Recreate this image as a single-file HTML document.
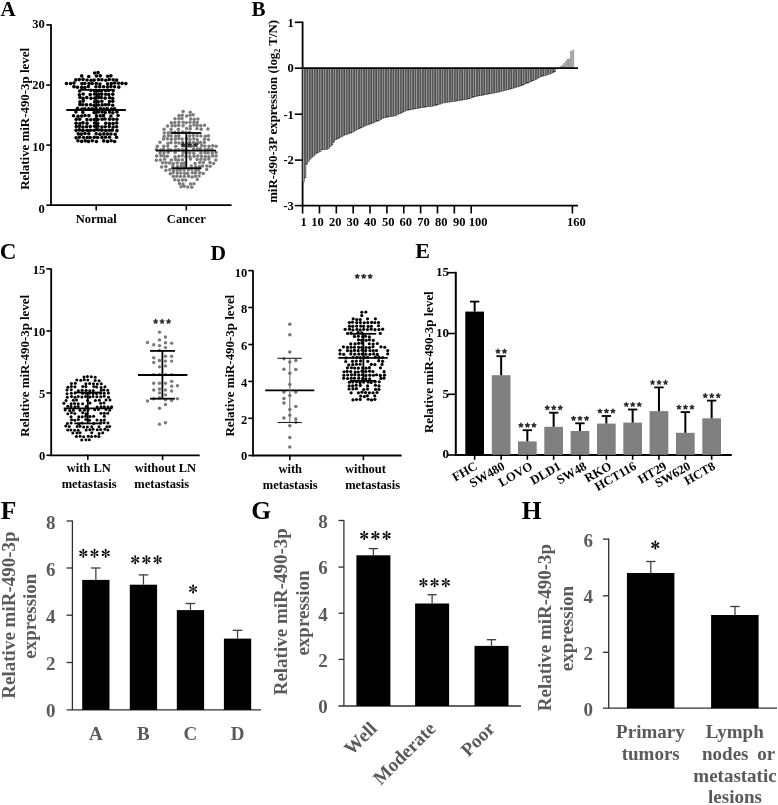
<!DOCTYPE html>
<html><head><meta charset="utf-8"><style>
html,body{margin:0;padding:0;background:#fff;}
svg{display:block;will-change:transform;}
</style></head><body>
<svg width="778" height="805" viewBox="0 0 778 805" font-family="&#39;Liberation Serif&#39;, serif" font-weight="bold">
<rect width="778" height="805" fill="#fff"/>
<text x="0.50" y="15.60" font-size="21" text-anchor="start" fill="#000" >A</text>
<line x1="51.00" y1="24.20" x2="51.00" y2="206.00" stroke="#000" stroke-width="1.8"/>
<line x1="50.10" y1="205.20" x2="231.60" y2="205.20" stroke="#000" stroke-width="1.8"/>
<line x1="46.30" y1="24.90" x2="51.00" y2="24.90" stroke="#000" stroke-width="1.6"/>
<line x1="46.30" y1="85.10" x2="51.00" y2="85.10" stroke="#000" stroke-width="1.6"/>
<line x1="46.30" y1="145.10" x2="51.00" y2="145.10" stroke="#000" stroke-width="1.6"/>
<line x1="46.30" y1="205.20" x2="51.00" y2="205.20" stroke="#000" stroke-width="1.6"/>
<text x="44.80" y="28.30" font-size="12.5" text-anchor="end" fill="#000" >30</text>
<text x="44.80" y="89.20" font-size="12.5" text-anchor="end" fill="#000" >20</text>
<text x="44.80" y="151.00" font-size="12.5" text-anchor="end" fill="#000" >10</text>
<text x="44.80" y="212.70" font-size="12.5" text-anchor="end" fill="#000" >0</text>
<line x1="96.20" y1="205.00" x2="96.20" y2="210.40" stroke="#000" stroke-width="1.6"/>
<line x1="186.30" y1="205.00" x2="186.30" y2="210.40" stroke="#000" stroke-width="1.6"/>
<text x="96.20" y="222.70" font-size="12.5" text-anchor="middle" fill="#000" >Normal</text>
<text x="186.30" y="222.70" font-size="12.5" text-anchor="middle" fill="#000" >Cancer</text>
<text transform="translate(28.60,118.90) rotate(-90)" font-size="12.9" text-anchor="middle" fill="#000">Relative miR-490-3p level</text>
<g fill="#000"><circle cx="94.70" cy="72.96" r="1.8"/><circle cx="98.05" cy="72.65" r="1.8"/><circle cx="81.69" cy="75.89" r="1.8"/><circle cx="88.73" cy="76.56" r="1.8"/><circle cx="96.42" cy="76.03" r="1.8"/><circle cx="100.30" cy="75.83" r="1.8"/><circle cx="107.74" cy="76.18" r="1.8"/><circle cx="110.92" cy="75.83" r="1.8"/><circle cx="75.79" cy="79.90" r="1.8"/><circle cx="79.28" cy="79.62" r="1.8"/><circle cx="83.04" cy="79.42" r="1.8"/><circle cx="87.01" cy="80.04" r="1.8"/><circle cx="91.14" cy="80.26" r="1.8"/><circle cx="94.18" cy="80.12" r="1.8"/><circle cx="98.49" cy="79.82" r="1.8"/><circle cx="101.92" cy="79.70" r="1.8"/><circle cx="105.83" cy="80.25" r="1.8"/><circle cx="109.24" cy="79.43" r="1.8"/><circle cx="113.15" cy="79.81" r="1.8"/><circle cx="116.60" cy="80.10" r="1.8"/><circle cx="66.47" cy="83.44" r="1.8"/><circle cx="70.58" cy="83.52" r="1.8"/><circle cx="73.99" cy="83.03" r="1.8"/><circle cx="81.88" cy="83.59" r="1.8"/><circle cx="84.77" cy="83.50" r="1.8"/><circle cx="89.07" cy="83.54" r="1.8"/><circle cx="92.23" cy="83.51" r="1.8"/><circle cx="96.28" cy="83.46" r="1.8"/><circle cx="99.95" cy="83.96" r="1.8"/><circle cx="107.62" cy="83.89" r="1.8"/><circle cx="111.31" cy="83.52" r="1.8"/><circle cx="114.63" cy="83.06" r="1.8"/><circle cx="118.47" cy="83.20" r="1.8"/><circle cx="122.08" cy="83.36" r="1.8"/><circle cx="125.84" cy="83.62" r="1.8"/><circle cx="73.96" cy="86.63" r="1.8"/><circle cx="77.38" cy="87.18" r="1.8"/><circle cx="81.70" cy="87.40" r="1.8"/><circle cx="84.86" cy="87.44" r="1.8"/><circle cx="88.38" cy="86.62" r="1.8"/><circle cx="95.95" cy="86.71" r="1.8"/><circle cx="99.74" cy="86.67" r="1.8"/><circle cx="103.63" cy="86.77" r="1.8"/><circle cx="107.51" cy="87.05" r="1.8"/><circle cx="110.97" cy="86.62" r="1.8"/><circle cx="114.62" cy="86.79" r="1.8"/><circle cx="118.80" cy="87.11" r="1.8"/><circle cx="79.66" cy="91.02" r="1.8"/><circle cx="90.87" cy="90.36" r="1.8"/><circle cx="94.53" cy="90.74" r="1.8"/><circle cx="98.53" cy="91.00" r="1.8"/><circle cx="101.47" cy="90.85" r="1.8"/><circle cx="105.53" cy="90.52" r="1.8"/><circle cx="108.71" cy="90.50" r="1.8"/><circle cx="113.23" cy="90.51" r="1.8"/><circle cx="79.36" cy="94.74" r="1.8"/><circle cx="83.17" cy="94.05" r="1.8"/><circle cx="90.19" cy="94.62" r="1.8"/><circle cx="94.42" cy="93.97" r="1.8"/><circle cx="98.52" cy="94.50" r="1.8"/><circle cx="101.63" cy="94.15" r="1.8"/><circle cx="105.62" cy="94.23" r="1.8"/><circle cx="108.75" cy="94.47" r="1.8"/><circle cx="112.85" cy="94.13" r="1.8"/><circle cx="79.95" cy="97.42" r="1.8"/><circle cx="83.08" cy="98.39" r="1.8"/><circle cx="86.79" cy="97.61" r="1.8"/><circle cx="90.99" cy="98.33" r="1.8"/><circle cx="94.73" cy="98.09" r="1.8"/><circle cx="98.54" cy="97.63" r="1.8"/><circle cx="101.33" cy="97.57" r="1.8"/><circle cx="105.16" cy="98.16" r="1.8"/><circle cx="109.49" cy="97.77" r="1.8"/><circle cx="112.64" cy="98.27" r="1.8"/><circle cx="80.00" cy="101.89" r="1.8"/><circle cx="83.30" cy="101.10" r="1.8"/><circle cx="94.64" cy="101.83" r="1.8"/><circle cx="98.17" cy="101.78" r="1.8"/><circle cx="101.82" cy="101.22" r="1.8"/><circle cx="109.54" cy="101.56" r="1.8"/><circle cx="112.81" cy="101.28" r="1.8"/><circle cx="79.88" cy="104.61" r="1.8"/><circle cx="82.84" cy="104.72" r="1.8"/><circle cx="86.49" cy="104.84" r="1.8"/><circle cx="90.57" cy="104.72" r="1.8"/><circle cx="94.09" cy="105.34" r="1.8"/><circle cx="98.46" cy="104.98" r="1.8"/><circle cx="102.16" cy="104.89" r="1.8"/><circle cx="105.43" cy="104.70" r="1.8"/><circle cx="108.69" cy="104.61" r="1.8"/><circle cx="112.65" cy="105.20" r="1.8"/><circle cx="77.51" cy="108.26" r="1.8"/><circle cx="81.87" cy="109.17" r="1.8"/><circle cx="84.82" cy="108.82" r="1.8"/><circle cx="88.84" cy="108.89" r="1.8"/><circle cx="92.26" cy="108.74" r="1.8"/><circle cx="95.95" cy="108.28" r="1.8"/><circle cx="100.38" cy="108.65" r="1.8"/><circle cx="103.74" cy="109.14" r="1.8"/><circle cx="107.11" cy="108.53" r="1.8"/><circle cx="111.35" cy="109.09" r="1.8"/><circle cx="114.53" cy="108.74" r="1.8"/><circle cx="75.95" cy="112.05" r="1.8"/><circle cx="82.82" cy="112.35" r="1.8"/><circle cx="94.14" cy="112.59" r="1.8"/><circle cx="98.41" cy="111.95" r="1.8"/><circle cx="102.04" cy="111.88" r="1.8"/><circle cx="105.12" cy="112.58" r="1.8"/><circle cx="109.47" cy="112.12" r="1.8"/><circle cx="112.86" cy="112.72" r="1.8"/><circle cx="116.94" cy="111.94" r="1.8"/><circle cx="73.53" cy="115.72" r="1.8"/><circle cx="78.00" cy="116.31" r="1.8"/><circle cx="81.65" cy="116.09" r="1.8"/><circle cx="85.03" cy="115.56" r="1.8"/><circle cx="88.97" cy="115.65" r="1.8"/><circle cx="96.51" cy="115.95" r="1.8"/><circle cx="100.25" cy="115.85" r="1.8"/><circle cx="103.44" cy="115.66" r="1.8"/><circle cx="110.92" cy="115.97" r="1.8"/><circle cx="118.04" cy="115.53" r="1.8"/><circle cx="76.18" cy="119.40" r="1.8"/><circle cx="79.66" cy="119.23" r="1.8"/><circle cx="86.95" cy="119.65" r="1.8"/><circle cx="90.84" cy="119.73" r="1.8"/><circle cx="94.35" cy="119.48" r="1.8"/><circle cx="97.96" cy="119.56" r="1.8"/><circle cx="102.17" cy="119.28" r="1.8"/><circle cx="105.00" cy="119.07" r="1.8"/><circle cx="109.53" cy="119.16" r="1.8"/><circle cx="113.23" cy="119.31" r="1.8"/><circle cx="116.90" cy="119.37" r="1.8"/><circle cx="76.09" cy="123.19" r="1.8"/><circle cx="79.95" cy="123.56" r="1.8"/><circle cx="82.93" cy="122.85" r="1.8"/><circle cx="87.02" cy="123.36" r="1.8"/><circle cx="94.57" cy="122.95" r="1.8"/><circle cx="97.71" cy="123.33" r="1.8"/><circle cx="105.76" cy="123.23" r="1.8"/><circle cx="109.56" cy="123.56" r="1.8"/><circle cx="113.13" cy="123.44" r="1.8"/><circle cx="116.75" cy="123.05" r="1.8"/><circle cx="76.32" cy="126.58" r="1.8"/><circle cx="79.48" cy="126.36" r="1.8"/><circle cx="82.88" cy="127.11" r="1.8"/><circle cx="86.57" cy="126.80" r="1.8"/><circle cx="90.27" cy="126.50" r="1.8"/><circle cx="94.60" cy="126.20" r="1.8"/><circle cx="97.99" cy="126.22" r="1.8"/><circle cx="101.86" cy="127.04" r="1.8"/><circle cx="105.23" cy="126.74" r="1.8"/><circle cx="109.24" cy="126.45" r="1.8"/><circle cx="113.14" cy="127.01" r="1.8"/><circle cx="116.60" cy="126.69" r="1.8"/><circle cx="76.12" cy="130.37" r="1.8"/><circle cx="79.33" cy="129.91" r="1.8"/><circle cx="82.87" cy="130.55" r="1.8"/><circle cx="87.41" cy="130.56" r="1.8"/><circle cx="90.29" cy="130.30" r="1.8"/><circle cx="94.16" cy="130.30" r="1.8"/><circle cx="98.08" cy="129.80" r="1.8"/><circle cx="101.70" cy="130.10" r="1.8"/><circle cx="105.73" cy="130.48" r="1.8"/><circle cx="109.30" cy="130.18" r="1.8"/><circle cx="112.35" cy="130.08" r="1.8"/><circle cx="116.93" cy="130.63" r="1.8"/><circle cx="78.19" cy="133.86" r="1.8"/><circle cx="81.31" cy="134.14" r="1.8"/><circle cx="84.91" cy="133.57" r="1.8"/><circle cx="88.83" cy="133.76" r="1.8"/><circle cx="96.13" cy="133.81" r="1.8"/><circle cx="99.98" cy="134.13" r="1.8"/><circle cx="103.85" cy="133.89" r="1.8"/><circle cx="107.44" cy="134.05" r="1.8"/><circle cx="110.91" cy="134.03" r="1.8"/><circle cx="115.14" cy="134.18" r="1.8"/><circle cx="76.12" cy="137.82" r="1.8"/><circle cx="79.40" cy="137.26" r="1.8"/><circle cx="83.62" cy="137.54" r="1.8"/><circle cx="87.28" cy="137.48" r="1.8"/><circle cx="90.20" cy="137.51" r="1.8"/><circle cx="94.27" cy="137.36" r="1.8"/><circle cx="97.57" cy="137.51" r="1.8"/><circle cx="101.94" cy="137.40" r="1.8"/><circle cx="105.55" cy="137.21" r="1.8"/><circle cx="109.54" cy="137.27" r="1.8"/><circle cx="116.57" cy="137.37" r="1.8"/><circle cx="77.94" cy="140.77" r="1.8"/><circle cx="81.61" cy="141.42" r="1.8"/><circle cx="85.21" cy="140.83" r="1.8"/><circle cx="88.47" cy="141.39" r="1.8"/><circle cx="92.33" cy="140.82" r="1.8"/><circle cx="96.41" cy="141.44" r="1.8"/><circle cx="103.72" cy="140.92" r="1.8"/><circle cx="107.56" cy="141.39" r="1.8"/><circle cx="111.13" cy="140.77" r="1.8"/><circle cx="114.64" cy="141.51" r="1.8"/></g>
<g fill="#7c7c7c"><circle cx="183.14" cy="111.47" r="1.75"/><circle cx="190.28" cy="112.20" r="1.75"/><circle cx="179.03" cy="115.53" r="1.75"/><circle cx="182.19" cy="115.32" r="1.75"/><circle cx="186.57" cy="115.99" r="1.75"/><circle cx="190.05" cy="115.33" r="1.75"/><circle cx="193.14" cy="114.83" r="1.75"/><circle cx="174.98" cy="118.66" r="1.75"/><circle cx="178.93" cy="118.87" r="1.75"/><circle cx="182.03" cy="118.59" r="1.75"/><circle cx="190.60" cy="119.01" r="1.75"/><circle cx="194.17" cy="119.16" r="1.75"/><circle cx="197.89" cy="119.12" r="1.75"/><circle cx="171.32" cy="122.78" r="1.75"/><circle cx="174.79" cy="122.50" r="1.75"/><circle cx="178.85" cy="122.24" r="1.75"/><circle cx="183.11" cy="122.20" r="1.75"/><circle cx="186.12" cy="122.66" r="1.75"/><circle cx="189.95" cy="122.28" r="1.75"/><circle cx="193.97" cy="122.18" r="1.75"/><circle cx="197.19" cy="122.44" r="1.75"/><circle cx="167.52" cy="126.09" r="1.75"/><circle cx="172.05" cy="125.85" r="1.75"/><circle cx="175.22" cy="125.78" r="1.75"/><circle cx="178.67" cy="125.25" r="1.75"/><circle cx="183.12" cy="125.75" r="1.75"/><circle cx="190.27" cy="126.09" r="1.75"/><circle cx="193.99" cy="125.07" r="1.75"/><circle cx="197.13" cy="125.27" r="1.75"/><circle cx="200.63" cy="125.63" r="1.75"/><circle cx="204.49" cy="125.25" r="1.75"/><circle cx="164.01" cy="129.26" r="1.75"/><circle cx="171.11" cy="129.21" r="1.75"/><circle cx="178.33" cy="129.28" r="1.75"/><circle cx="186.68" cy="128.59" r="1.75"/><circle cx="190.23" cy="128.86" r="1.75"/><circle cx="196.98" cy="128.44" r="1.75"/><circle cx="201.24" cy="129.29" r="1.75"/><circle cx="207.94" cy="128.94" r="1.75"/><circle cx="164.39" cy="132.88" r="1.75"/><circle cx="168.23" cy="132.65" r="1.75"/><circle cx="171.17" cy="132.59" r="1.75"/><circle cx="174.72" cy="132.34" r="1.75"/><circle cx="178.45" cy="132.50" r="1.75"/><circle cx="182.62" cy="131.97" r="1.75"/><circle cx="186.01" cy="132.53" r="1.75"/><circle cx="189.42" cy="132.47" r="1.75"/><circle cx="164.11" cy="136.38" r="1.75"/><circle cx="168.39" cy="135.48" r="1.75"/><circle cx="171.20" cy="135.91" r="1.75"/><circle cx="175.56" cy="136.05" r="1.75"/><circle cx="178.81" cy="135.83" r="1.75"/><circle cx="189.53" cy="136.07" r="1.75"/><circle cx="193.22" cy="135.42" r="1.75"/><circle cx="197.06" cy="135.82" r="1.75"/><circle cx="200.87" cy="135.97" r="1.75"/><circle cx="205.29" cy="136.36" r="1.75"/><circle cx="208.42" cy="135.81" r="1.75"/><circle cx="163.56" cy="139.10" r="1.75"/><circle cx="167.42" cy="138.71" r="1.75"/><circle cx="171.34" cy="139.22" r="1.75"/><circle cx="175.33" cy="138.95" r="1.75"/><circle cx="178.75" cy="138.62" r="1.75"/><circle cx="182.12" cy="138.97" r="1.75"/><circle cx="186.51" cy="138.62" r="1.75"/><circle cx="189.89" cy="139.18" r="1.75"/><circle cx="193.81" cy="138.69" r="1.75"/><circle cx="197.25" cy="139.72" r="1.75"/><circle cx="204.43" cy="139.29" r="1.75"/><circle cx="208.46" cy="139.50" r="1.75"/><circle cx="159.95" cy="142.15" r="1.75"/><circle cx="167.97" cy="143.15" r="1.75"/><circle cx="170.93" cy="142.79" r="1.75"/><circle cx="175.47" cy="142.60" r="1.75"/><circle cx="178.85" cy="142.96" r="1.75"/><circle cx="182.63" cy="142.57" r="1.75"/><circle cx="186.67" cy="143.12" r="1.75"/><circle cx="189.76" cy="142.28" r="1.75"/><circle cx="193.41" cy="142.51" r="1.75"/><circle cx="197.90" cy="142.70" r="1.75"/><circle cx="200.62" cy="142.43" r="1.75"/><circle cx="204.38" cy="142.50" r="1.75"/><circle cx="157.29" cy="146.18" r="1.75"/><circle cx="163.78" cy="146.20" r="1.75"/><circle cx="167.73" cy="146.03" r="1.75"/><circle cx="175.74" cy="146.31" r="1.75"/><circle cx="182.86" cy="145.71" r="1.75"/><circle cx="186.25" cy="146.24" r="1.75"/><circle cx="190.59" cy="146.34" r="1.75"/><circle cx="193.27" cy="145.93" r="1.75"/><circle cx="201.56" cy="145.62" r="1.75"/><circle cx="204.78" cy="145.89" r="1.75"/><circle cx="209.02" cy="146.25" r="1.75"/><circle cx="212.75" cy="145.80" r="1.75"/><circle cx="216.09" cy="146.31" r="1.75"/><circle cx="156.37" cy="149.55" r="1.75"/><circle cx="160.60" cy="149.97" r="1.75"/><circle cx="163.51" cy="149.36" r="1.75"/><circle cx="168.26" cy="149.58" r="1.75"/><circle cx="170.92" cy="149.93" r="1.75"/><circle cx="175.33" cy="149.89" r="1.75"/><circle cx="178.42" cy="149.78" r="1.75"/><circle cx="182.24" cy="149.69" r="1.75"/><circle cx="185.93" cy="149.77" r="1.75"/><circle cx="193.62" cy="149.10" r="1.75"/><circle cx="197.36" cy="149.05" r="1.75"/><circle cx="200.59" cy="148.80" r="1.75"/><circle cx="205.20" cy="149.59" r="1.75"/><circle cx="208.48" cy="149.61" r="1.75"/><circle cx="211.92" cy="149.40" r="1.75"/><circle cx="160.01" cy="153.10" r="1.75"/><circle cx="163.99" cy="153.01" r="1.75"/><circle cx="168.24" cy="152.36" r="1.75"/><circle cx="175.16" cy="152.55" r="1.75"/><circle cx="183.16" cy="152.64" r="1.75"/><circle cx="186.16" cy="152.73" r="1.75"/><circle cx="189.77" cy="152.98" r="1.75"/><circle cx="193.75" cy="153.30" r="1.75"/><circle cx="200.87" cy="152.98" r="1.75"/><circle cx="204.98" cy="152.67" r="1.75"/><circle cx="208.01" cy="152.96" r="1.75"/><circle cx="212.24" cy="153.22" r="1.75"/><circle cx="216.05" cy="152.57" r="1.75"/><circle cx="156.65" cy="155.88" r="1.75"/><circle cx="160.95" cy="155.73" r="1.75"/><circle cx="163.96" cy="156.04" r="1.75"/><circle cx="167.29" cy="156.15" r="1.75"/><circle cx="174.95" cy="156.67" r="1.75"/><circle cx="178.83" cy="156.37" r="1.75"/><circle cx="182.39" cy="155.72" r="1.75"/><circle cx="185.93" cy="156.41" r="1.75"/><circle cx="189.83" cy="156.55" r="1.75"/><circle cx="194.07" cy="156.36" r="1.75"/><circle cx="197.79" cy="156.01" r="1.75"/><circle cx="201.61" cy="156.20" r="1.75"/><circle cx="205.34" cy="156.49" r="1.75"/><circle cx="208.94" cy="156.72" r="1.75"/><circle cx="212.77" cy="155.95" r="1.75"/><circle cx="216.10" cy="156.04" r="1.75"/><circle cx="156.31" cy="160.15" r="1.75"/><circle cx="160.37" cy="160.07" r="1.75"/><circle cx="164.65" cy="159.15" r="1.75"/><circle cx="171.33" cy="160.10" r="1.75"/><circle cx="175.51" cy="159.52" r="1.75"/><circle cx="178.58" cy="160.00" r="1.75"/><circle cx="182.34" cy="159.77" r="1.75"/><circle cx="190.51" cy="159.11" r="1.75"/><circle cx="197.10" cy="159.50" r="1.75"/><circle cx="200.91" cy="159.30" r="1.75"/><circle cx="204.93" cy="159.40" r="1.75"/><circle cx="208.82" cy="159.07" r="1.75"/><circle cx="215.82" cy="159.93" r="1.75"/><circle cx="162.66" cy="162.81" r="1.75"/><circle cx="166.08" cy="162.87" r="1.75"/><circle cx="169.52" cy="162.97" r="1.75"/><circle cx="173.13" cy="163.41" r="1.75"/><circle cx="177.16" cy="163.05" r="1.75"/><circle cx="181.34" cy="163.41" r="1.75"/><circle cx="184.34" cy="163.03" r="1.75"/><circle cx="195.10" cy="163.52" r="1.75"/><circle cx="199.75" cy="162.49" r="1.75"/><circle cx="203.31" cy="162.41" r="1.75"/><circle cx="209.96" cy="162.58" r="1.75"/><circle cx="213.56" cy="163.57" r="1.75"/><circle cx="161.71" cy="166.88" r="1.75"/><circle cx="165.93" cy="166.47" r="1.75"/><circle cx="172.82" cy="166.04" r="1.75"/><circle cx="177.44" cy="166.43" r="1.75"/><circle cx="181.20" cy="165.97" r="1.75"/><circle cx="184.01" cy="165.94" r="1.75"/><circle cx="191.31" cy="166.06" r="1.75"/><circle cx="195.70" cy="166.83" r="1.75"/><circle cx="199.51" cy="166.41" r="1.75"/><circle cx="202.55" cy="165.93" r="1.75"/><circle cx="206.80" cy="166.05" r="1.75"/><circle cx="210.11" cy="166.32" r="1.75"/><circle cx="165.83" cy="170.16" r="1.75"/><circle cx="169.72" cy="169.77" r="1.75"/><circle cx="173.67" cy="170.38" r="1.75"/><circle cx="177.29" cy="170.04" r="1.75"/><circle cx="180.19" cy="169.86" r="1.75"/><circle cx="184.08" cy="169.90" r="1.75"/><circle cx="188.30" cy="170.09" r="1.75"/><circle cx="191.82" cy="169.26" r="1.75"/><circle cx="195.94" cy="170.20" r="1.75"/><circle cx="198.70" cy="169.44" r="1.75"/><circle cx="206.70" cy="169.42" r="1.75"/><circle cx="170.22" cy="173.68" r="1.75"/><circle cx="173.10" cy="172.85" r="1.75"/><circle cx="177.29" cy="172.93" r="1.75"/><circle cx="180.83" cy="173.10" r="1.75"/><circle cx="184.71" cy="173.15" r="1.75"/><circle cx="187.70" cy="173.44" r="1.75"/><circle cx="192.34" cy="172.86" r="1.75"/><circle cx="195.60" cy="173.07" r="1.75"/><circle cx="199.76" cy="172.84" r="1.75"/><circle cx="203.18" cy="173.54" r="1.75"/><circle cx="173.30" cy="176.42" r="1.75"/><circle cx="176.76" cy="176.23" r="1.75"/><circle cx="180.38" cy="176.56" r="1.75"/><circle cx="184.22" cy="176.20" r="1.75"/><circle cx="188.58" cy="176.27" r="1.75"/><circle cx="192.04" cy="177.06" r="1.75"/><circle cx="195.32" cy="176.25" r="1.75"/><circle cx="199.01" cy="176.02" r="1.75"/><circle cx="174.84" cy="179.78" r="1.75"/><circle cx="178.61" cy="180.27" r="1.75"/><circle cx="182.53" cy="179.90" r="1.75"/><circle cx="185.72" cy="180.10" r="1.75"/><circle cx="197.25" cy="179.48" r="1.75"/><circle cx="179.40" cy="183.57" r="1.75"/><circle cx="182.96" cy="183.90" r="1.75"/><circle cx="190.56" cy="183.91" r="1.75"/><circle cx="193.94" cy="183.85" r="1.75"/><circle cx="180.99" cy="186.83" r="1.75"/><circle cx="184.11" cy="186.27" r="1.75"/><circle cx="187.72" cy="186.95" r="1.75"/><circle cx="191.77" cy="187.36" r="1.75"/></g>
<line x1="66.30" y1="110.00" x2="125.80" y2="110.00" stroke="#000" stroke-width="1.8"/>
<line x1="96.20" y1="89.80" x2="96.20" y2="130.40" stroke="#000" stroke-width="1.8"/>
<line x1="79.80" y1="89.80" x2="112.50" y2="89.80" stroke="#000" stroke-width="1.8"/>
<line x1="79.80" y1="130.40" x2="112.50" y2="130.40" stroke="#000" stroke-width="1.8"/>
<line x1="156.00" y1="150.60" x2="216.00" y2="150.60" stroke="#000" stroke-width="1.8"/>
<line x1="186.30" y1="133.00" x2="186.30" y2="168.20" stroke="#000" stroke-width="1.8"/>
<line x1="171.30" y1="133.00" x2="201.40" y2="133.00" stroke="#000" stroke-width="1.8"/>
<line x1="171.30" y1="168.20" x2="201.40" y2="168.20" stroke="#000" stroke-width="1.8"/>
<path d="M183.15 144.90L183.15 142.95M183.15 144.90L185.00 144.30M183.15 144.90L184.30 146.48M183.15 144.90L182.00 146.48M183.15 144.90L181.30 144.30" stroke="#2a2a2a" stroke-width="1.5" stroke-linecap="round" fill="none"/>
<path d="M189.50 144.90L189.50 142.95M189.50 144.90L191.35 144.30M189.50 144.90L190.65 146.48M189.50 144.90L188.35 146.48M189.50 144.90L187.65 144.30" stroke="#2a2a2a" stroke-width="1.5" stroke-linecap="round" fill="none"/>
<path d="M195.85 144.90L195.85 142.95M195.85 144.90L197.70 144.30M195.85 144.90L197.00 146.48M195.85 144.90L194.70 146.48M195.85 144.90L194.00 144.30" stroke="#2a2a2a" stroke-width="1.5" stroke-linecap="round" fill="none"/>
<text x="251.50" y="15.60" font-size="21" text-anchor="start" fill="#000" >B</text>
<line x1="302.60" y1="21.50" x2="302.60" y2="206.40" stroke="#000" stroke-width="1.8"/>
<line x1="301.70" y1="205.60" x2="578.00" y2="205.60" stroke="#000" stroke-width="1.8"/>
<line x1="294.80" y1="22.30" x2="302.60" y2="22.30" stroke="#000" stroke-width="1.6"/>
<line x1="294.80" y1="68.20" x2="302.60" y2="68.20" stroke="#000" stroke-width="1.6"/>
<line x1="294.80" y1="114.20" x2="302.60" y2="114.20" stroke="#000" stroke-width="1.6"/>
<line x1="294.80" y1="160.10" x2="302.60" y2="160.10" stroke="#000" stroke-width="1.6"/>
<line x1="294.80" y1="205.60" x2="302.60" y2="205.60" stroke="#000" stroke-width="1.6"/>
<text x="293.80" y="27.00" font-size="12.5" text-anchor="end" fill="#000" >1</text>
<text x="293.80" y="72.20" font-size="12.5" text-anchor="end" fill="#000" >0</text>
<text x="293.80" y="118.50" font-size="12.5" text-anchor="end" fill="#000" >-1</text>
<text x="293.80" y="164.40" font-size="12.5" text-anchor="end" fill="#000" >-2</text>
<text x="293.80" y="210.00" font-size="12.5" text-anchor="end" fill="#000" >-3</text>
<line x1="302.60" y1="205.20" x2="302.60" y2="213.50" stroke="#000" stroke-width="1.6"/>
<line x1="319.46" y1="205.20" x2="319.46" y2="213.50" stroke="#000" stroke-width="1.6"/>
<line x1="336.32" y1="205.20" x2="336.32" y2="213.50" stroke="#000" stroke-width="1.6"/>
<line x1="353.18" y1="205.20" x2="353.18" y2="213.50" stroke="#000" stroke-width="1.6"/>
<line x1="370.04" y1="205.20" x2="370.04" y2="213.50" stroke="#000" stroke-width="1.6"/>
<line x1="386.90" y1="205.20" x2="386.90" y2="213.50" stroke="#000" stroke-width="1.6"/>
<line x1="403.76" y1="205.20" x2="403.76" y2="213.50" stroke="#000" stroke-width="1.6"/>
<line x1="420.62" y1="205.20" x2="420.62" y2="213.50" stroke="#000" stroke-width="1.6"/>
<line x1="437.48" y1="205.20" x2="437.48" y2="213.50" stroke="#000" stroke-width="1.6"/>
<line x1="454.34" y1="205.20" x2="454.34" y2="213.50" stroke="#000" stroke-width="1.6"/>
<line x1="471.20" y1="205.20" x2="471.20" y2="213.50" stroke="#000" stroke-width="1.6"/>
<line x1="572.40" y1="205.20" x2="572.40" y2="213.50" stroke="#000" stroke-width="1.6"/>
<text x="303.50" y="225.60" font-size="12.5" text-anchor="middle" fill="#000" >1</text>
<text x="317.60" y="225.60" font-size="12.5" text-anchor="middle" fill="#000" >10</text>
<text x="335.30" y="225.60" font-size="12.5" text-anchor="middle" fill="#000" >20</text>
<text x="352.80" y="225.60" font-size="12.5" text-anchor="middle" fill="#000" >30</text>
<text x="370.20" y="225.60" font-size="12.5" text-anchor="middle" fill="#000" >40</text>
<text x="388.30" y="225.60" font-size="12.5" text-anchor="middle" fill="#000" >50</text>
<text x="405.80" y="225.60" font-size="12.5" text-anchor="middle" fill="#000" >60</text>
<text x="423.60" y="225.60" font-size="12.5" text-anchor="middle" fill="#000" >70</text>
<text x="441.30" y="225.60" font-size="12.5" text-anchor="middle" fill="#000" >80</text>
<text x="459.20" y="225.60" font-size="12.5" text-anchor="middle" fill="#000" >90</text>
<text x="478.20" y="225.60" font-size="12.5" text-anchor="middle" fill="#000" >100</text>
<text x="576.40" y="225.60" font-size="12.5" text-anchor="middle" fill="#000" >160</text>
<text transform="translate(276.8,111.4) rotate(-90)" font-size="12.9" text-anchor="middle">miR-490-3P expression (log<tspan font-size="8" dy="3">2</tspan><tspan dy="-3"> T/N)</tspan></text>
<g fill="#989898" stroke="#1a1a1a" stroke-width="0.45"><rect x="302.600" y="68.20" width="1.686" height="113.70"/><rect x="304.286" y="68.20" width="1.686" height="109.67"/><rect x="305.972" y="68.20" width="1.686" height="96.01"/><rect x="307.658" y="68.20" width="1.686" height="93.13"/><rect x="309.344" y="68.20" width="1.686" height="90.94"/><rect x="311.030" y="68.20" width="1.686" height="89.54"/><rect x="312.716" y="68.20" width="1.686" height="87.99"/><rect x="314.402" y="68.20" width="1.686" height="86.13"/><rect x="316.088" y="68.20" width="1.686" height="84.90"/><rect x="317.774" y="68.20" width="1.686" height="84.19"/><rect x="319.460" y="68.20" width="1.686" height="83.30"/><rect x="321.146" y="68.20" width="1.686" height="81.61"/><rect x="322.832" y="68.20" width="1.686" height="81.46"/><rect x="324.518" y="68.20" width="1.686" height="81.32"/><rect x="326.204" y="68.20" width="1.686" height="81.18"/><rect x="327.890" y="68.20" width="1.686" height="80.33"/><rect x="329.576" y="68.20" width="1.686" height="78.56"/><rect x="331.262" y="68.20" width="1.686" height="76.72"/><rect x="332.948" y="68.20" width="1.686" height="73.91"/><rect x="334.634" y="68.20" width="1.686" height="71.66"/><rect x="336.320" y="68.20" width="1.686" height="70.82"/><rect x="338.006" y="68.20" width="1.686" height="69.98"/><rect x="339.692" y="68.20" width="1.686" height="69.13"/><rect x="341.378" y="68.20" width="1.686" height="68.29"/><rect x="343.064" y="68.20" width="1.686" height="67.45"/><rect x="344.750" y="68.20" width="1.686" height="66.70"/><rect x="346.436" y="68.20" width="1.686" height="66.13"/><rect x="348.122" y="68.20" width="1.686" height="65.55"/><rect x="349.808" y="68.20" width="1.686" height="64.87"/><rect x="351.494" y="68.20" width="1.686" height="64.03"/><rect x="353.180" y="68.20" width="1.686" height="63.19"/><rect x="354.866" y="68.20" width="1.686" height="62.35"/><rect x="356.552" y="68.20" width="1.686" height="61.50"/><rect x="358.238" y="68.20" width="1.686" height="60.66"/><rect x="359.924" y="68.20" width="1.686" height="59.82"/><rect x="361.610" y="68.20" width="1.686" height="58.97"/><rect x="363.296" y="68.20" width="1.686" height="58.13"/><rect x="364.982" y="68.20" width="1.686" height="57.41"/><rect x="366.668" y="68.20" width="1.686" height="56.80"/><rect x="368.354" y="68.20" width="1.686" height="56.20"/><rect x="370.040" y="68.20" width="1.686" height="55.60"/><rect x="371.726" y="68.20" width="1.686" height="54.96"/><rect x="373.412" y="68.20" width="1.686" height="54.26"/><rect x="375.098" y="68.20" width="1.686" height="53.56"/><rect x="376.784" y="68.20" width="1.686" height="52.86"/><rect x="378.470" y="68.20" width="1.686" height="52.06"/><rect x="380.156" y="68.20" width="1.686" height="51.24"/><rect x="381.842" y="68.20" width="1.686" height="50.42"/><rect x="383.528" y="68.20" width="1.686" height="49.61"/><rect x="385.214" y="68.20" width="1.686" height="49.13"/><rect x="386.900" y="68.20" width="1.686" height="48.86"/><rect x="388.586" y="68.20" width="1.686" height="48.59"/><rect x="390.272" y="68.20" width="1.686" height="48.32"/><rect x="391.958" y="68.20" width="1.686" height="48.05"/><rect x="393.644" y="68.20" width="1.686" height="47.78"/><rect x="395.330" y="68.20" width="1.686" height="47.16"/><rect x="397.016" y="68.20" width="1.686" height="46.38"/><rect x="398.702" y="68.20" width="1.686" height="45.61"/><rect x="400.388" y="68.20" width="1.686" height="44.83"/><rect x="402.074" y="68.20" width="1.686" height="44.05"/><rect x="403.760" y="68.20" width="1.686" height="43.27"/><rect x="405.446" y="68.20" width="1.686" height="42.48"/><rect x="407.132" y="68.20" width="1.686" height="41.98"/><rect x="408.818" y="68.20" width="1.686" height="41.65"/><rect x="410.504" y="68.20" width="1.686" height="41.31"/><rect x="412.190" y="68.20" width="1.686" height="40.97"/><rect x="413.876" y="68.20" width="1.686" height="40.66"/><rect x="415.562" y="68.20" width="1.686" height="40.36"/><rect x="417.248" y="68.20" width="1.686" height="40.07"/><rect x="418.934" y="68.20" width="1.686" height="39.78"/><rect x="420.620" y="68.20" width="1.686" height="39.48"/><rect x="422.306" y="68.20" width="1.686" height="39.19"/><rect x="423.992" y="68.20" width="1.686" height="38.96"/><rect x="425.678" y="68.20" width="1.686" height="38.73"/><rect x="427.364" y="68.20" width="1.686" height="38.50"/><rect x="429.050" y="68.20" width="1.686" height="38.26"/><rect x="430.736" y="68.20" width="1.686" height="38.03"/><rect x="432.422" y="68.20" width="1.686" height="37.80"/><rect x="434.108" y="68.20" width="1.686" height="37.52"/><rect x="435.794" y="68.20" width="1.686" height="36.98"/><rect x="437.480" y="68.20" width="1.686" height="36.43"/><rect x="439.166" y="68.20" width="1.686" height="35.89"/><rect x="440.852" y="68.20" width="1.686" height="35.34"/><rect x="442.538" y="68.20" width="1.686" height="34.80"/><rect x="444.224" y="68.20" width="1.686" height="34.45"/><rect x="445.910" y="68.20" width="1.686" height="34.22"/><rect x="447.596" y="68.20" width="1.686" height="33.98"/><rect x="449.282" y="68.20" width="1.686" height="33.75"/><rect x="450.968" y="68.20" width="1.686" height="33.51"/><rect x="452.654" y="68.20" width="1.686" height="33.28"/><rect x="454.340" y="68.20" width="1.686" height="33.04"/><rect x="456.026" y="68.20" width="1.686" height="32.78"/><rect x="457.712" y="68.20" width="1.686" height="32.50"/><rect x="459.398" y="68.20" width="1.686" height="32.22"/><rect x="461.084" y="68.20" width="1.686" height="31.95"/><rect x="462.770" y="68.20" width="1.686" height="31.67"/><rect x="464.456" y="68.20" width="1.686" height="31.39"/><rect x="466.142" y="68.20" width="1.686" height="31.12"/><rect x="467.828" y="68.20" width="1.686" height="30.59"/><rect x="469.514" y="68.20" width="1.686" height="30.05"/><rect x="471.200" y="68.20" width="1.686" height="29.51"/><rect x="472.886" y="68.20" width="1.686" height="28.96"/><rect x="474.572" y="68.20" width="1.686" height="28.42"/><rect x="476.258" y="68.20" width="1.686" height="27.97"/><rect x="477.944" y="68.20" width="1.686" height="27.66"/><rect x="479.630" y="68.20" width="1.686" height="27.36"/><rect x="481.316" y="68.20" width="1.686" height="27.05"/><rect x="483.002" y="68.20" width="1.686" height="26.74"/><rect x="484.688" y="68.20" width="1.686" height="26.43"/><rect x="486.374" y="68.20" width="1.686" height="26.12"/><rect x="488.060" y="68.20" width="1.686" height="25.80"/><rect x="489.746" y="68.20" width="1.686" height="25.47"/><rect x="491.432" y="68.20" width="1.686" height="25.13"/><rect x="493.118" y="68.20" width="1.686" height="24.80"/><rect x="494.804" y="68.20" width="1.686" height="24.46"/><rect x="496.490" y="68.20" width="1.686" height="24.13"/><rect x="498.176" y="68.20" width="1.686" height="23.80"/><rect x="499.862" y="68.20" width="1.686" height="23.39"/><rect x="501.548" y="68.20" width="1.686" height="22.95"/><rect x="503.234" y="68.20" width="1.686" height="22.52"/><rect x="504.920" y="68.20" width="1.686" height="22.08"/><rect x="506.606" y="68.20" width="1.686" height="21.64"/><rect x="508.292" y="68.20" width="1.686" height="21.21"/><rect x="509.978" y="68.20" width="1.686" height="20.77"/><rect x="511.664" y="68.20" width="1.686" height="20.27"/><rect x="513.350" y="68.20" width="1.686" height="19.76"/><rect x="515.036" y="68.20" width="1.686" height="19.25"/><rect x="516.722" y="68.20" width="1.686" height="18.73"/><rect x="518.408" y="68.20" width="1.686" height="18.22"/><rect x="520.094" y="68.20" width="1.686" height="17.64"/><rect x="521.780" y="68.20" width="1.686" height="16.94"/><rect x="523.466" y="68.20" width="1.686" height="16.24"/><rect x="525.152" y="68.20" width="1.686" height="15.54"/><rect x="526.838" y="68.20" width="1.686" height="14.85"/><rect x="528.524" y="68.20" width="1.686" height="14.15"/><rect x="530.210" y="68.20" width="1.686" height="13.45"/><rect x="531.896" y="68.20" width="1.686" height="12.68"/><rect x="533.582" y="68.20" width="1.686" height="11.84"/><rect x="535.268" y="68.20" width="1.686" height="10.99"/><rect x="536.954" y="68.20" width="1.686" height="10.15"/><rect x="538.640" y="68.20" width="1.686" height="9.31"/><rect x="540.326" y="68.20" width="1.686" height="8.48"/><rect x="542.012" y="68.20" width="1.686" height="7.97"/><rect x="543.698" y="68.20" width="1.686" height="7.46"/><rect x="545.384" y="68.20" width="1.686" height="6.96"/><rect x="547.070" y="68.20" width="1.686" height="6.45"/><rect x="548.756" y="68.20" width="1.686" height="5.94"/><rect x="550.442" y="68.20" width="1.686" height="5.30"/><rect x="552.128" y="68.20" width="1.686" height="4.54"/><rect x="553.814" y="68.20" width="1.686" height="3.74"/></g>
<g fill="#aaaaaa" stroke="#777" stroke-width="0.4"><rect x="560.30" y="66.50" width="1.3" height="1.70"/><rect x="562.00" y="65.10" width="1.3" height="3.10"/><rect x="563.70" y="63.50" width="1.3" height="4.70"/><rect x="565.40" y="61.00" width="1.3" height="7.20"/><rect x="567.10" y="59.50" width="1.3" height="8.70"/><rect x="568.80" y="59.00" width="1.3" height="9.20"/><rect x="570.50" y="51.60" width="1.3" height="16.60"/><rect x="572.60" y="50.00" width="1.3" height="18.20"/></g>
<line x1="302.60" y1="68.20" x2="578.00" y2="68.20" stroke="#000" stroke-width="1.8"/>
<text x="-0.30" y="259.00" font-size="23" text-anchor="start" fill="#000" >C</text>
<line x1="51.20" y1="268.50" x2="51.20" y2="456.10" stroke="#000" stroke-width="1.8"/>
<line x1="50.30" y1="455.30" x2="199.70" y2="455.30" stroke="#000" stroke-width="1.8"/>
<line x1="46.40" y1="268.90" x2="51.20" y2="268.90" stroke="#000" stroke-width="1.6"/>
<line x1="46.40" y1="331.00" x2="51.20" y2="331.00" stroke="#000" stroke-width="1.6"/>
<line x1="46.40" y1="393.00" x2="51.20" y2="393.00" stroke="#000" stroke-width="1.6"/>
<line x1="46.40" y1="455.30" x2="51.20" y2="455.30" stroke="#000" stroke-width="1.6"/>
<text x="45.30" y="273.90" font-size="12.5" text-anchor="end" fill="#000" >15</text>
<text x="45.30" y="336.10" font-size="12.5" text-anchor="end" fill="#000" >10</text>
<text x="45.30" y="398.10" font-size="12.5" text-anchor="end" fill="#000" >5</text>
<text x="45.30" y="459.90" font-size="12.5" text-anchor="end" fill="#000" >0</text>
<line x1="87.80" y1="454.60" x2="87.80" y2="460.00" stroke="#000" stroke-width="1.6"/>
<line x1="162.60" y1="454.60" x2="162.60" y2="460.00" stroke="#000" stroke-width="1.6"/>
<text x="88.80" y="472.20" font-size="12.5" text-anchor="middle" fill="#000" >with LN</text>
<text x="89.10" y="488.00" font-size="12.5" text-anchor="middle" fill="#000" >metastasis</text>
<text x="165.40" y="472.20" font-size="12.5" text-anchor="middle" fill="#000" >without LN</text>
<text x="161.80" y="488.00" font-size="12.5" text-anchor="middle" fill="#000" >metastasis</text>
<text transform="translate(29.20,365.80) rotate(-90)" font-size="12.9" text-anchor="middle" fill="#000">Relative miR-490-3p level</text>
<g fill="#000"><circle cx="83.97" cy="377.10" r="1.5"/><circle cx="87.37" cy="376.51" r="1.5"/><circle cx="91.26" cy="376.73" r="1.5"/><circle cx="95.17" cy="377.34" r="1.5"/><circle cx="76.84" cy="379.95" r="1.5"/><circle cx="80.77" cy="380.32" r="1.5"/><circle cx="84.27" cy="379.86" r="1.5"/><circle cx="87.89" cy="380.10" r="1.5"/><circle cx="95.17" cy="380.52" r="1.5"/><circle cx="99.11" cy="380.72" r="1.5"/><circle cx="71.45" cy="383.54" r="1.5"/><circle cx="75.23" cy="383.20" r="1.5"/><circle cx="85.89" cy="383.73" r="1.5"/><circle cx="89.66" cy="383.49" r="1.5"/><circle cx="93.44" cy="383.68" r="1.5"/><circle cx="97.23" cy="384.03" r="1.5"/><circle cx="101.24" cy="383.77" r="1.5"/><circle cx="67.91" cy="387.30" r="1.5"/><circle cx="71.36" cy="386.61" r="1.5"/><circle cx="74.92" cy="386.68" r="1.5"/><circle cx="82.74" cy="386.49" r="1.5"/><circle cx="85.86" cy="386.55" r="1.5"/><circle cx="93.72" cy="386.44" r="1.5"/><circle cx="96.59" cy="387.12" r="1.5"/><circle cx="101.13" cy="387.38" r="1.5"/><circle cx="104.95" cy="386.71" r="1.5"/><circle cx="66.98" cy="389.90" r="1.5"/><circle cx="71.26" cy="389.86" r="1.5"/><circle cx="78.36" cy="390.66" r="1.5"/><circle cx="82.13" cy="390.16" r="1.5"/><circle cx="86.09" cy="390.30" r="1.5"/><circle cx="89.77" cy="390.64" r="1.5"/><circle cx="93.28" cy="390.42" r="1.5"/><circle cx="101.23" cy="390.22" r="1.5"/><circle cx="103.96" cy="390.12" r="1.5"/><circle cx="107.67" cy="390.32" r="1.5"/><circle cx="67.01" cy="393.63" r="1.5"/><circle cx="71.33" cy="393.35" r="1.5"/><circle cx="75.09" cy="393.02" r="1.5"/><circle cx="82.71" cy="393.25" r="1.5"/><circle cx="86.04" cy="393.32" r="1.5"/><circle cx="89.46" cy="393.37" r="1.5"/><circle cx="93.15" cy="393.38" r="1.5"/><circle cx="96.58" cy="393.57" r="1.5"/><circle cx="100.56" cy="393.22" r="1.5"/><circle cx="104.19" cy="393.19" r="1.5"/><circle cx="108.35" cy="393.10" r="1.5"/><circle cx="67.28" cy="397.13" r="1.5"/><circle cx="71.51" cy="396.47" r="1.5"/><circle cx="75.00" cy="397.18" r="1.5"/><circle cx="78.28" cy="396.42" r="1.5"/><circle cx="81.94" cy="397.11" r="1.5"/><circle cx="85.63" cy="396.58" r="1.5"/><circle cx="89.79" cy="397.11" r="1.5"/><circle cx="92.98" cy="396.59" r="1.5"/><circle cx="96.82" cy="396.65" r="1.5"/><circle cx="100.67" cy="396.71" r="1.5"/><circle cx="104.11" cy="396.30" r="1.5"/><circle cx="108.53" cy="397.29" r="1.5"/><circle cx="66.05" cy="400.53" r="1.5"/><circle cx="73.34" cy="400.26" r="1.5"/><circle cx="76.49" cy="399.94" r="1.5"/><circle cx="87.59" cy="400.41" r="1.5"/><circle cx="95.39" cy="400.52" r="1.5"/><circle cx="99.30" cy="400.18" r="1.5"/><circle cx="105.97" cy="399.90" r="1.5"/><circle cx="110.02" cy="400.01" r="1.5"/><circle cx="63.86" cy="403.24" r="1.5"/><circle cx="71.13" cy="403.68" r="1.5"/><circle cx="74.55" cy="403.43" r="1.5"/><circle cx="78.22" cy="403.69" r="1.5"/><circle cx="82.56" cy="403.72" r="1.5"/><circle cx="90.01" cy="402.95" r="1.5"/><circle cx="100.67" cy="403.37" r="1.5"/><circle cx="103.95" cy="402.95" r="1.5"/><circle cx="67.80" cy="406.29" r="1.5"/><circle cx="70.97" cy="406.51" r="1.5"/><circle cx="75.00" cy="406.79" r="1.5"/><circle cx="78.24" cy="406.53" r="1.5"/><circle cx="86.17" cy="406.58" r="1.5"/><circle cx="97.15" cy="406.98" r="1.5"/><circle cx="101.05" cy="406.82" r="1.5"/><circle cx="104.32" cy="406.70" r="1.5"/><circle cx="108.07" cy="406.89" r="1.5"/><circle cx="111.60" cy="406.74" r="1.5"/><circle cx="65.17" cy="409.92" r="1.5"/><circle cx="69.68" cy="410.44" r="1.5"/><circle cx="73.40" cy="410.29" r="1.5"/><circle cx="80.02" cy="410.31" r="1.5"/><circle cx="84.49" cy="410.29" r="1.5"/><circle cx="88.03" cy="410.06" r="1.5"/><circle cx="94.70" cy="409.64" r="1.5"/><circle cx="98.44" cy="409.59" r="1.5"/><circle cx="105.98" cy="409.52" r="1.5"/><circle cx="109.62" cy="410.34" r="1.5"/><circle cx="67.79" cy="413.75" r="1.5"/><circle cx="71.45" cy="412.84" r="1.5"/><circle cx="74.86" cy="413.52" r="1.5"/><circle cx="82.68" cy="412.86" r="1.5"/><circle cx="86.01" cy="413.63" r="1.5"/><circle cx="101.00" cy="413.19" r="1.5"/><circle cx="104.35" cy="413.15" r="1.5"/><circle cx="107.73" cy="413.30" r="1.5"/><circle cx="71.06" cy="416.85" r="1.5"/><circle cx="78.81" cy="416.77" r="1.5"/><circle cx="82.23" cy="416.74" r="1.5"/><circle cx="85.60" cy="416.20" r="1.5"/><circle cx="90.07" cy="416.62" r="1.5"/><circle cx="93.57" cy="416.29" r="1.5"/><circle cx="104.26" cy="416.33" r="1.5"/><circle cx="71.60" cy="419.70" r="1.5"/><circle cx="74.76" cy="420.25" r="1.5"/><circle cx="78.32" cy="419.62" r="1.5"/><circle cx="85.83" cy="419.57" r="1.5"/><circle cx="89.47" cy="420.17" r="1.5"/><circle cx="97.03" cy="420.00" r="1.5"/><circle cx="101.08" cy="420.22" r="1.5"/><circle cx="104.43" cy="420.12" r="1.5"/><circle cx="67.35" cy="423.43" r="1.5"/><circle cx="71.12" cy="422.93" r="1.5"/><circle cx="78.73" cy="423.66" r="1.5"/><circle cx="81.99" cy="422.89" r="1.5"/><circle cx="93.71" cy="423.60" r="1.5"/><circle cx="100.56" cy="423.12" r="1.5"/><circle cx="104.04" cy="422.79" r="1.5"/><circle cx="107.94" cy="423.06" r="1.5"/><circle cx="65.78" cy="426.01" r="1.5"/><circle cx="69.24" cy="426.49" r="1.5"/><circle cx="77.16" cy="426.39" r="1.5"/><circle cx="80.02" cy="426.27" r="1.5"/><circle cx="83.71" cy="426.89" r="1.5"/><circle cx="87.40" cy="426.94" r="1.5"/><circle cx="91.77" cy="426.76" r="1.5"/><circle cx="99.05" cy="426.81" r="1.5"/><circle cx="106.76" cy="426.67" r="1.5"/><circle cx="109.61" cy="426.49" r="1.5"/><circle cx="67.67" cy="429.98" r="1.5"/><circle cx="70.83" cy="429.95" r="1.5"/><circle cx="74.53" cy="430.19" r="1.5"/><circle cx="78.17" cy="430.23" r="1.5"/><circle cx="86.17" cy="429.90" r="1.5"/><circle cx="89.80" cy="429.76" r="1.5"/><circle cx="93.03" cy="429.37" r="1.5"/><circle cx="97.30" cy="429.84" r="1.5"/><circle cx="100.61" cy="429.57" r="1.5"/><circle cx="104.82" cy="429.34" r="1.5"/><circle cx="107.90" cy="430.07" r="1.5"/><circle cx="72.83" cy="433.00" r="1.5"/><circle cx="76.97" cy="432.95" r="1.5"/><circle cx="80.01" cy="432.87" r="1.5"/><circle cx="91.73" cy="432.78" r="1.5"/><circle cx="99.14" cy="433.42" r="1.5"/><circle cx="102.69" cy="432.75" r="1.5"/><circle cx="76.39" cy="436.43" r="1.5"/><circle cx="80.10" cy="436.15" r="1.5"/><circle cx="83.63" cy="436.70" r="1.5"/><circle cx="88.25" cy="436.28" r="1.5"/><circle cx="91.58" cy="436.53" r="1.5"/><circle cx="95.39" cy="436.20" r="1.5"/><circle cx="98.88" cy="436.50" r="1.5"/><circle cx="81.75" cy="439.97" r="1.5"/><circle cx="85.94" cy="439.72" r="1.5"/><circle cx="89.34" cy="439.73" r="1.5"/></g>
<g fill="#7a7a7a"><circle cx="159.49" cy="332.17" r="1.7"/><circle cx="165.47" cy="336.99" r="1.7"/><circle cx="147.54" cy="342.39" r="1.7"/><circle cx="153.71" cy="344.70" r="1.7"/><circle cx="159.49" cy="339.88" r="1.7"/><circle cx="165.47" cy="342.77" r="1.7"/><circle cx="171.64" cy="343.16" r="1.7"/><circle cx="159.49" cy="345.67" r="1.7"/><circle cx="165.47" cy="347.59" r="1.7"/><circle cx="159.49" cy="350.49" r="1.7"/><circle cx="153.71" cy="357.81" r="1.7"/><circle cx="165.47" cy="356.27" r="1.7"/><circle cx="171.64" cy="356.27" r="1.7"/><circle cx="153.71" cy="362.44" r="1.7"/><circle cx="159.49" cy="360.51" r="1.7"/><circle cx="165.47" cy="361.09" r="1.7"/><circle cx="171.64" cy="361.09" r="1.7"/><circle cx="159.49" cy="366.87" r="1.7"/><circle cx="165.47" cy="365.91" r="1.7"/><circle cx="153.71" cy="374.58" r="1.7"/><circle cx="159.49" cy="374.58" r="1.7"/><circle cx="165.47" cy="374.58" r="1.7"/><circle cx="171.64" cy="374.58" r="1.7"/><circle cx="153.71" cy="383.26" r="1.7"/><circle cx="159.49" cy="383.26" r="1.7"/><circle cx="165.47" cy="383.26" r="1.7"/><circle cx="171.64" cy="381.33" r="1.7"/><circle cx="171.64" cy="386.15" r="1.7"/><circle cx="177.42" cy="385.77" r="1.7"/><circle cx="153.71" cy="390.01" r="1.7"/><circle cx="159.49" cy="389.04" r="1.7"/><circle cx="165.47" cy="390.01" r="1.7"/><circle cx="171.64" cy="390.97" r="1.7"/><circle cx="159.49" cy="392.90" r="1.7"/><circle cx="165.47" cy="394.83" r="1.7"/><circle cx="153.71" cy="398.68" r="1.7"/><circle cx="159.49" cy="397.72" r="1.7"/><circle cx="165.47" cy="399.65" r="1.7"/><circle cx="171.64" cy="400.61" r="1.7"/><circle cx="177.42" cy="398.68" r="1.7"/><circle cx="147.54" cy="401.00" r="1.7"/><circle cx="165.47" cy="404.47" r="1.7"/><circle cx="159.49" cy="408.32" r="1.7"/><circle cx="159.49" cy="424.13" r="1.7"/><circle cx="165.47" cy="422.78" r="1.7"/></g>
<line x1="63.70" y1="408.30" x2="112.50" y2="408.30" stroke="#000" stroke-width="1.8"/>
<line x1="87.80" y1="392.50" x2="87.80" y2="423.40" stroke="#000" stroke-width="1.8"/>
<line x1="74.30" y1="392.50" x2="102.20" y2="392.50" stroke="#000" stroke-width="1.8"/>
<line x1="74.30" y1="423.40" x2="102.20" y2="423.40" stroke="#000" stroke-width="1.8"/>
<line x1="137.90" y1="375.00" x2="187.40" y2="375.00" stroke="#000" stroke-width="1.8"/>
<line x1="162.40" y1="350.90" x2="162.40" y2="398.70" stroke="#000" stroke-width="1.8"/>
<line x1="150.00" y1="350.90" x2="174.90" y2="350.90" stroke="#000" stroke-width="1.8"/>
<line x1="150.00" y1="398.70" x2="174.90" y2="398.70" stroke="#000" stroke-width="1.8"/>
<path d="M155.65 321.50L155.65 319.55M155.65 321.50L157.50 320.90M155.65 321.50L156.80 323.08M155.65 321.50L154.50 323.08M155.65 321.50L153.80 320.90" stroke="#2a2a2a" stroke-width="1.5" stroke-linecap="round" fill="none"/>
<path d="M162.10 321.50L162.10 319.55M162.10 321.50L163.95 320.90M162.10 321.50L163.25 323.08M162.10 321.50L160.95 323.08M162.10 321.50L160.25 320.90" stroke="#2a2a2a" stroke-width="1.5" stroke-linecap="round" fill="none"/>
<path d="M168.55 321.50L168.55 319.55M168.55 321.50L170.40 320.90M168.55 321.50L169.70 323.08M168.55 321.50L167.40 323.08M168.55 321.50L166.70 320.90" stroke="#2a2a2a" stroke-width="1.5" stroke-linecap="round" fill="none"/>
<text x="210.60" y="260.30" font-size="21.5" text-anchor="start" fill="#000" >D</text>
<line x1="253.00" y1="270.20" x2="253.00" y2="456.30" stroke="#000" stroke-width="1.8"/>
<line x1="252.10" y1="455.50" x2="401.60" y2="455.50" stroke="#000" stroke-width="1.8"/>
<line x1="248.30" y1="270.60" x2="253.00" y2="270.60" stroke="#000" stroke-width="1.6"/>
<line x1="248.30" y1="307.50" x2="253.00" y2="307.50" stroke="#000" stroke-width="1.6"/>
<line x1="248.30" y1="344.50" x2="253.00" y2="344.50" stroke="#000" stroke-width="1.6"/>
<line x1="248.30" y1="381.40" x2="253.00" y2="381.40" stroke="#000" stroke-width="1.6"/>
<line x1="248.30" y1="418.30" x2="253.00" y2="418.30" stroke="#000" stroke-width="1.6"/>
<line x1="248.30" y1="455.50" x2="253.00" y2="455.50" stroke="#000" stroke-width="1.6"/>
<text x="247.20" y="276.60" font-size="12.5" text-anchor="end" fill="#000" >10</text>
<text x="247.20" y="313.00" font-size="12.5" text-anchor="end" fill="#000" >8</text>
<text x="247.20" y="350.00" font-size="12.5" text-anchor="end" fill="#000" >6</text>
<text x="247.20" y="386.90" font-size="12.5" text-anchor="end" fill="#000" >4</text>
<text x="247.20" y="423.70" font-size="12.5" text-anchor="end" fill="#000" >2</text>
<text x="247.20" y="459.60" font-size="12.5" text-anchor="end" fill="#000" >0</text>
<line x1="289.80" y1="454.80" x2="289.80" y2="460.20" stroke="#000" stroke-width="1.6"/>
<line x1="363.40" y1="454.80" x2="363.40" y2="460.20" stroke="#000" stroke-width="1.6"/>
<text x="290.20" y="473.40" font-size="12.5" text-anchor="middle" fill="#000" >with</text>
<text x="290.20" y="489.20" font-size="12.5" text-anchor="middle" fill="#000" >metastasis</text>
<text x="365.50" y="473.40" font-size="12.5" text-anchor="middle" fill="#000" >without</text>
<text x="372.60" y="489.20" font-size="12.5" text-anchor="middle" fill="#000" >metastasis</text>
<text transform="translate(233.60,365.70) rotate(-90)" font-size="12.9" text-anchor="middle" fill="#000">Relative miR-490-3p level</text>
<g fill="#747474"><circle cx="289.80" cy="324.30" r="1.75"/><circle cx="289.80" cy="334.80" r="1.75"/><circle cx="289.80" cy="352.10" r="1.75"/><circle cx="283.90" cy="358.70" r="1.75"/><circle cx="289.80" cy="362.00" r="1.75"/><circle cx="295.80" cy="360.60" r="1.75"/><circle cx="283.90" cy="369.20" r="1.75"/><circle cx="295.80" cy="369.60" r="1.75"/><circle cx="289.80" cy="373.20" r="1.75"/><circle cx="289.80" cy="384.50" r="1.75"/><circle cx="283.90" cy="391.90" r="1.75"/><circle cx="295.80" cy="391.90" r="1.75"/><circle cx="289.80" cy="395.40" r="1.75"/><circle cx="283.90" cy="398.40" r="1.75"/><circle cx="283.90" cy="403.00" r="1.75"/><circle cx="295.80" cy="406.40" r="1.75"/><circle cx="289.80" cy="409.40" r="1.75"/><circle cx="289.80" cy="415.30" r="1.75"/><circle cx="283.90" cy="417.90" r="1.75"/><circle cx="295.80" cy="418.90" r="1.75"/><circle cx="295.80" cy="422.30" r="1.75"/><circle cx="289.80" cy="425.70" r="1.75"/><circle cx="289.80" cy="437.60" r="1.75"/><circle cx="289.80" cy="447.10" r="1.75"/></g>
<g fill="#000"><circle cx="361.84" cy="312.24" r="1.6"/><circle cx="365.88" cy="311.98" r="1.6"/><circle cx="361.73" cy="315.54" r="1.6"/><circle cx="353.19" cy="318.76" r="1.6"/><circle cx="356.71" cy="319.50" r="1.6"/><circle cx="360.21" cy="319.53" r="1.6"/><circle cx="367.51" cy="318.78" r="1.6"/><circle cx="375.38" cy="318.81" r="1.6"/><circle cx="349.33" cy="322.49" r="1.6"/><circle cx="352.51" cy="322.20" r="1.6"/><circle cx="356.76" cy="322.53" r="1.6"/><circle cx="360.38" cy="322.56" r="1.6"/><circle cx="364.26" cy="322.78" r="1.6"/><circle cx="367.77" cy="322.62" r="1.6"/><circle cx="371.61" cy="322.41" r="1.6"/><circle cx="374.76" cy="322.53" r="1.6"/><circle cx="378.49" cy="322.59" r="1.6"/><circle cx="349.44" cy="326.17" r="1.6"/><circle cx="352.73" cy="326.28" r="1.6"/><circle cx="356.67" cy="326.06" r="1.6"/><circle cx="360.70" cy="326.08" r="1.6"/><circle cx="363.60" cy="326.28" r="1.6"/><circle cx="368.14" cy="326.39" r="1.6"/><circle cx="371.30" cy="326.25" r="1.6"/><circle cx="378.50" cy="325.76" r="1.6"/><circle cx="345.17" cy="329.37" r="1.6"/><circle cx="349.53" cy="329.22" r="1.6"/><circle cx="352.94" cy="329.95" r="1.6"/><circle cx="356.93" cy="329.40" r="1.6"/><circle cx="360.17" cy="329.95" r="1.6"/><circle cx="363.69" cy="329.31" r="1.6"/><circle cx="367.46" cy="329.59" r="1.6"/><circle cx="371.19" cy="329.15" r="1.6"/><circle cx="374.98" cy="329.66" r="1.6"/><circle cx="378.97" cy="329.61" r="1.6"/><circle cx="382.66" cy="329.20" r="1.6"/><circle cx="347.60" cy="333.44" r="1.6"/><circle cx="350.95" cy="333.01" r="1.6"/><circle cx="358.06" cy="332.71" r="1.6"/><circle cx="361.85" cy="332.96" r="1.6"/><circle cx="380.22" cy="333.44" r="1.6"/><circle cx="354.43" cy="336.38" r="1.6"/><circle cx="358.33" cy="336.26" r="1.6"/><circle cx="362.59" cy="336.57" r="1.6"/><circle cx="365.48" cy="336.24" r="1.6"/><circle cx="369.34" cy="336.90" r="1.6"/><circle cx="358.48" cy="339.78" r="1.6"/><circle cx="361.72" cy="340.13" r="1.6"/><circle cx="366.18" cy="340.28" r="1.6"/><circle cx="369.43" cy="339.80" r="1.6"/><circle cx="373.28" cy="340.35" r="1.6"/><circle cx="350.80" cy="343.88" r="1.6"/><circle cx="355.07" cy="343.88" r="1.6"/><circle cx="358.67" cy="343.35" r="1.6"/><circle cx="362.02" cy="343.18" r="1.6"/><circle cx="369.33" cy="343.77" r="1.6"/><circle cx="373.20" cy="343.99" r="1.6"/><circle cx="377.36" cy="343.48" r="1.6"/><circle cx="343.40" cy="346.83" r="1.6"/><circle cx="347.46" cy="347.46" r="1.6"/><circle cx="351.03" cy="347.24" r="1.6"/><circle cx="354.38" cy="347.24" r="1.6"/><circle cx="358.70" cy="347.33" r="1.6"/><circle cx="361.86" cy="347.36" r="1.6"/><circle cx="366.12" cy="347.52" r="1.6"/><circle cx="369.46" cy="347.50" r="1.6"/><circle cx="372.95" cy="346.76" r="1.6"/><circle cx="380.93" cy="346.78" r="1.6"/><circle cx="384.78" cy="347.24" r="1.6"/><circle cx="339.99" cy="350.27" r="1.6"/><circle cx="347.48" cy="350.62" r="1.6"/><circle cx="350.99" cy="350.93" r="1.6"/><circle cx="354.49" cy="350.38" r="1.6"/><circle cx="358.22" cy="350.68" r="1.6"/><circle cx="362.08" cy="350.27" r="1.6"/><circle cx="365.72" cy="350.56" r="1.6"/><circle cx="369.91" cy="350.53" r="1.6"/><circle cx="373.25" cy="350.63" r="1.6"/><circle cx="376.52" cy="350.55" r="1.6"/><circle cx="387.76" cy="350.58" r="1.6"/><circle cx="340.00" cy="353.94" r="1.6"/><circle cx="343.70" cy="354.36" r="1.6"/><circle cx="350.82" cy="353.90" r="1.6"/><circle cx="354.76" cy="354.16" r="1.6"/><circle cx="358.82" cy="354.05" r="1.6"/><circle cx="362.15" cy="354.11" r="1.6"/><circle cx="365.81" cy="354.13" r="1.6"/><circle cx="369.95" cy="354.28" r="1.6"/><circle cx="373.65" cy="353.88" r="1.6"/><circle cx="377.35" cy="354.41" r="1.6"/><circle cx="387.67" cy="353.87" r="1.6"/><circle cx="345.76" cy="357.96" r="1.6"/><circle cx="353.04" cy="357.28" r="1.6"/><circle cx="357.02" cy="357.35" r="1.6"/><circle cx="360.21" cy="357.59" r="1.6"/><circle cx="364.30" cy="357.30" r="1.6"/><circle cx="367.71" cy="357.46" r="1.6"/><circle cx="375.30" cy="357.17" r="1.6"/><circle cx="378.75" cy="357.17" r="1.6"/><circle cx="382.61" cy="357.61" r="1.6"/><circle cx="345.76" cy="361.52" r="1.6"/><circle cx="352.49" cy="361.35" r="1.6"/><circle cx="356.27" cy="361.03" r="1.6"/><circle cx="360.59" cy="360.88" r="1.6"/><circle cx="367.76" cy="361.28" r="1.6"/><circle cx="378.73" cy="360.72" r="1.6"/><circle cx="382.62" cy="361.37" r="1.6"/><circle cx="348.81" cy="364.93" r="1.6"/><circle cx="352.76" cy="364.65" r="1.6"/><circle cx="356.39" cy="364.27" r="1.6"/><circle cx="360.06" cy="364.25" r="1.6"/><circle cx="371.23" cy="364.42" r="1.6"/><circle cx="374.91" cy="364.60" r="1.6"/><circle cx="382.07" cy="364.38" r="1.6"/><circle cx="347.40" cy="367.82" r="1.6"/><circle cx="351.44" cy="367.75" r="1.6"/><circle cx="354.69" cy="368.10" r="1.6"/><circle cx="358.35" cy="368.11" r="1.6"/><circle cx="362.58" cy="367.96" r="1.6"/><circle cx="366.04" cy="368.22" r="1.6"/><circle cx="369.41" cy="367.70" r="1.6"/><circle cx="380.43" cy="367.80" r="1.6"/><circle cx="343.98" cy="371.75" r="1.6"/><circle cx="347.12" cy="371.41" r="1.6"/><circle cx="350.74" cy="371.55" r="1.6"/><circle cx="355.17" cy="372.03" r="1.6"/><circle cx="358.22" cy="372.02" r="1.6"/><circle cx="362.02" cy="371.15" r="1.6"/><circle cx="365.83" cy="371.60" r="1.6"/><circle cx="369.55" cy="371.15" r="1.6"/><circle cx="372.88" cy="371.51" r="1.6"/><circle cx="384.11" cy="371.68" r="1.6"/><circle cx="343.88" cy="375.24" r="1.6"/><circle cx="347.69" cy="375.00" r="1.6"/><circle cx="351.49" cy="374.78" r="1.6"/><circle cx="354.88" cy="374.69" r="1.6"/><circle cx="358.80" cy="375.21" r="1.6"/><circle cx="362.43" cy="374.78" r="1.6"/><circle cx="365.85" cy="375.40" r="1.6"/><circle cx="369.84" cy="375.18" r="1.6"/><circle cx="373.41" cy="375.27" r="1.6"/><circle cx="376.53" cy="374.77" r="1.6"/><circle cx="380.29" cy="375.40" r="1.6"/><circle cx="384.46" cy="375.21" r="1.6"/><circle cx="343.64" cy="378.15" r="1.6"/><circle cx="347.57" cy="378.60" r="1.6"/><circle cx="351.19" cy="378.21" r="1.6"/><circle cx="354.53" cy="378.22" r="1.6"/><circle cx="358.66" cy="378.33" r="1.6"/><circle cx="362.58" cy="378.59" r="1.6"/><circle cx="365.83" cy="378.77" r="1.6"/><circle cx="369.66" cy="378.73" r="1.6"/><circle cx="380.87" cy="378.42" r="1.6"/><circle cx="383.91" cy="378.20" r="1.6"/><circle cx="349.35" cy="382.27" r="1.6"/><circle cx="352.71" cy="382.11" r="1.6"/><circle cx="356.57" cy="381.76" r="1.6"/><circle cx="360.03" cy="382.53" r="1.6"/><circle cx="363.57" cy="382.06" r="1.6"/><circle cx="368.12" cy="382.05" r="1.6"/><circle cx="371.14" cy="382.50" r="1.6"/><circle cx="375.17" cy="381.78" r="1.6"/><circle cx="379.21" cy="381.77" r="1.6"/><circle cx="349.21" cy="385.95" r="1.6"/><circle cx="352.66" cy="385.96" r="1.6"/><circle cx="356.17" cy="385.15" r="1.6"/><circle cx="360.26" cy="385.42" r="1.6"/><circle cx="367.53" cy="385.91" r="1.6"/><circle cx="375.41" cy="385.26" r="1.6"/><circle cx="378.99" cy="385.96" r="1.6"/><circle cx="349.08" cy="389.00" r="1.6"/><circle cx="352.98" cy="388.97" r="1.6"/><circle cx="356.40" cy="388.69" r="1.6"/><circle cx="363.81" cy="389.49" r="1.6"/><circle cx="367.49" cy="389.11" r="1.6"/><circle cx="375.51" cy="389.45" r="1.6"/><circle cx="378.92" cy="389.47" r="1.6"/><circle cx="351.09" cy="392.80" r="1.6"/><circle cx="358.41" cy="392.83" r="1.6"/><circle cx="361.96" cy="392.19" r="1.6"/><circle cx="365.51" cy="392.57" r="1.6"/><circle cx="369.37" cy="392.82" r="1.6"/><circle cx="373.03" cy="392.74" r="1.6"/><circle cx="377.00" cy="392.50" r="1.6"/><circle cx="360.67" cy="396.10" r="1.6"/><circle cx="364.37" cy="396.55" r="1.6"/><circle cx="367.38" cy="395.82" r="1.6"/><circle cx="374.73" cy="395.87" r="1.6"/><circle cx="352.96" cy="399.95" r="1.6"/><circle cx="356.52" cy="399.52" r="1.6"/><circle cx="360.19" cy="399.45" r="1.6"/><circle cx="368.12" cy="399.26" r="1.6"/><circle cx="371.52" cy="399.93" r="1.6"/><circle cx="374.89" cy="399.37" r="1.6"/></g>
<line x1="265.20" y1="390.40" x2="314.30" y2="390.40" stroke="#000" stroke-width="1.8"/>
<line x1="289.80" y1="358.30" x2="289.80" y2="422.50" stroke="#707070" stroke-width="1.1"/>
<line x1="277.50" y1="358.30" x2="301.80" y2="358.30" stroke="#222" stroke-width="1.1"/>
<line x1="277.50" y1="422.50" x2="301.80" y2="422.50" stroke="#222" stroke-width="1.1"/>
<line x1="338.30" y1="357.90" x2="387.70" y2="357.90" stroke="#000" stroke-width="1.8"/>
<line x1="363.40" y1="333.80" x2="363.40" y2="380.90" stroke="#000" stroke-width="1.8"/>
<line x1="349.90" y1="333.80" x2="376.20" y2="333.80" stroke="#000" stroke-width="1.8"/>
<line x1="349.90" y1="380.90" x2="376.20" y2="380.90" stroke="#000" stroke-width="1.8"/>
<path d="M357.25 276.40L357.25 274.45M357.25 276.40L359.10 275.80M357.25 276.40L358.40 277.98M357.25 276.40L356.10 277.98M357.25 276.40L355.40 275.80" stroke="#2a2a2a" stroke-width="1.5" stroke-linecap="round" fill="none"/>
<path d="M363.70 276.40L363.70 274.45M363.70 276.40L365.55 275.80M363.70 276.40L364.85 277.98M363.70 276.40L362.55 277.98M363.70 276.40L361.85 275.80" stroke="#2a2a2a" stroke-width="1.5" stroke-linecap="round" fill="none"/>
<path d="M370.15 276.40L370.15 274.45M370.15 276.40L372.00 275.80M370.15 276.40L371.30 277.98M370.15 276.40L369.00 277.98M370.15 276.40L368.30 275.80" stroke="#2a2a2a" stroke-width="1.5" stroke-linecap="round" fill="none"/>
<text x="415.20" y="258.40" font-size="22" text-anchor="start" fill="#000" >E</text>
<line x1="455.80" y1="271.80" x2="455.80" y2="455.80" stroke="#000" stroke-width="2.0"/>
<line x1="454.80" y1="455.00" x2="731.80" y2="455.00" stroke="#000" stroke-width="1.8"/>
<line x1="448.00" y1="272.70" x2="455.80" y2="272.70" stroke="#000" stroke-width="1.6"/>
<line x1="448.00" y1="333.50" x2="455.80" y2="333.50" stroke="#000" stroke-width="1.6"/>
<line x1="448.00" y1="394.30" x2="455.80" y2="394.30" stroke="#000" stroke-width="1.6"/>
<line x1="448.00" y1="455.00" x2="455.80" y2="455.00" stroke="#000" stroke-width="1.6"/>
<text x="449.00" y="276.00" font-size="13" text-anchor="end" fill="#000" >15</text>
<text x="449.00" y="336.80" font-size="13" text-anchor="end" fill="#000" >10</text>
<text x="449.00" y="397.60" font-size="13" text-anchor="end" fill="#000" >5</text>
<text x="449.00" y="458.30" font-size="13" text-anchor="end" fill="#000" >0</text>
<text transform="translate(433.20,362.20) rotate(-90)" font-size="12.9" text-anchor="middle" fill="#000">Relative miR-490-3p level</text>
<rect x="465.30" y="311.60" width="18.70" height="143.20" fill="#000" />
<line x1="474.65" y1="301.60" x2="474.65" y2="311.60" stroke="#000" stroke-width="2.0"/>
<line x1="469.95" y1="301.60" x2="479.35" y2="301.60" stroke="#000" stroke-width="1.8"/>
<line x1="474.65" y1="454.60" x2="474.65" y2="459.80" stroke="#000" stroke-width="1.6"/>
<text transform="translate(478.25,468.50) rotate(-30)" font-size="12.6" text-anchor="end" fill="#000">FHC</text>
<rect x="491.80" y="375.20" width="18.70" height="79.60" fill="#808080" />
<line x1="501.15" y1="356.20" x2="501.15" y2="375.20" stroke="#000" stroke-width="2.0"/>
<line x1="496.45" y1="356.20" x2="505.85" y2="356.20" stroke="#000" stroke-width="1.8"/>
<line x1="501.15" y1="454.60" x2="501.15" y2="459.80" stroke="#000" stroke-width="1.6"/>
<path d="M498.00 351.30L498.00 349.35M498.00 351.30L499.85 350.70M498.00 351.30L499.15 352.88M498.00 351.30L496.85 352.88M498.00 351.30L496.15 350.70" stroke="#2a2a2a" stroke-width="1.5" stroke-linecap="round" fill="none"/>
<path d="M504.50 351.30L504.50 349.35M504.50 351.30L506.35 350.70M504.50 351.30L505.65 352.88M504.50 351.30L503.35 352.88M504.50 351.30L502.65 350.70" stroke="#2a2a2a" stroke-width="1.5" stroke-linecap="round" fill="none"/>
<text transform="translate(505.75,468.50) rotate(-30)" font-size="12.6" text-anchor="end" fill="#000">SW480</text>
<rect x="518.00" y="441.40" width="18.70" height="13.40" fill="#808080" />
<line x1="527.35" y1="430.20" x2="527.35" y2="441.40" stroke="#000" stroke-width="2.0"/>
<line x1="522.65" y1="430.20" x2="532.05" y2="430.20" stroke="#000" stroke-width="1.8"/>
<line x1="527.35" y1="454.60" x2="527.35" y2="459.80" stroke="#000" stroke-width="1.6"/>
<path d="M520.95 425.30L520.95 423.35M520.95 425.30L522.80 424.70M520.95 425.30L522.10 426.88M520.95 425.30L519.80 426.88M520.95 425.30L519.10 424.70" stroke="#2a2a2a" stroke-width="1.5" stroke-linecap="round" fill="none"/>
<path d="M527.45 425.30L527.45 423.35M527.45 425.30L529.30 424.70M527.45 425.30L528.60 426.88M527.45 425.30L526.30 426.88M527.45 425.30L525.60 424.70" stroke="#2a2a2a" stroke-width="1.5" stroke-linecap="round" fill="none"/>
<path d="M533.95 425.30L533.95 423.35M533.95 425.30L535.80 424.70M533.95 425.30L535.10 426.88M533.95 425.30L532.80 426.88M533.95 425.30L532.10 424.70" stroke="#2a2a2a" stroke-width="1.5" stroke-linecap="round" fill="none"/>
<text transform="translate(533.45,468.50) rotate(-30)" font-size="12.6" text-anchor="end" fill="#000">LOVO</text>
<rect x="544.30" y="426.80" width="18.70" height="28.00" fill="#808080" />
<line x1="553.65" y1="412.70" x2="553.65" y2="426.80" stroke="#000" stroke-width="2.0"/>
<line x1="548.95" y1="412.70" x2="558.35" y2="412.70" stroke="#000" stroke-width="1.8"/>
<line x1="553.65" y1="454.60" x2="553.65" y2="459.80" stroke="#000" stroke-width="1.6"/>
<path d="M547.25 407.80L547.25 405.85M547.25 407.80L549.10 407.20M547.25 407.80L548.40 409.38M547.25 407.80L546.10 409.38M547.25 407.80L545.40 407.20" stroke="#2a2a2a" stroke-width="1.5" stroke-linecap="round" fill="none"/>
<path d="M553.75 407.80L553.75 405.85M553.75 407.80L555.60 407.20M553.75 407.80L554.90 409.38M553.75 407.80L552.60 409.38M553.75 407.80L551.90 407.20" stroke="#2a2a2a" stroke-width="1.5" stroke-linecap="round" fill="none"/>
<path d="M560.25 407.80L560.25 405.85M560.25 407.80L562.10 407.20M560.25 407.80L561.40 409.38M560.25 407.80L559.10 409.38M560.25 407.80L558.40 407.20" stroke="#2a2a2a" stroke-width="1.5" stroke-linecap="round" fill="none"/>
<text transform="translate(561.75,468.50) rotate(-30)" font-size="12.6" text-anchor="end" fill="#000">DLD1</text>
<rect x="570.60" y="431.00" width="18.70" height="23.80" fill="#808080" />
<line x1="579.95" y1="423.30" x2="579.95" y2="431.00" stroke="#000" stroke-width="2.0"/>
<line x1="575.25" y1="423.30" x2="584.65" y2="423.30" stroke="#000" stroke-width="1.8"/>
<line x1="579.95" y1="454.60" x2="579.95" y2="459.80" stroke="#000" stroke-width="1.6"/>
<path d="M573.55 418.40L573.55 416.45M573.55 418.40L575.40 417.80M573.55 418.40L574.70 419.98M573.55 418.40L572.40 419.98M573.55 418.40L571.70 417.80" stroke="#2a2a2a" stroke-width="1.5" stroke-linecap="round" fill="none"/>
<path d="M580.05 418.40L580.05 416.45M580.05 418.40L581.90 417.80M580.05 418.40L581.20 419.98M580.05 418.40L578.90 419.98M580.05 418.40L578.20 417.80" stroke="#2a2a2a" stroke-width="1.5" stroke-linecap="round" fill="none"/>
<path d="M586.55 418.40L586.55 416.45M586.55 418.40L588.40 417.80M586.55 418.40L587.70 419.98M586.55 418.40L585.40 419.98M586.55 418.40L584.70 417.80" stroke="#2a2a2a" stroke-width="1.5" stroke-linecap="round" fill="none"/>
<text transform="translate(587.55,468.50) rotate(-30)" font-size="12.6" text-anchor="end" fill="#000">SW48</text>
<rect x="597.00" y="423.60" width="18.70" height="31.20" fill="#808080" />
<line x1="606.35" y1="416.00" x2="606.35" y2="423.60" stroke="#000" stroke-width="2.0"/>
<line x1="601.65" y1="416.00" x2="611.05" y2="416.00" stroke="#000" stroke-width="1.8"/>
<line x1="606.35" y1="454.60" x2="606.35" y2="459.80" stroke="#000" stroke-width="1.6"/>
<path d="M599.95 411.10L599.95 409.15M599.95 411.10L601.80 410.50M599.95 411.10L601.10 412.68M599.95 411.10L598.80 412.68M599.95 411.10L598.10 410.50" stroke="#2a2a2a" stroke-width="1.5" stroke-linecap="round" fill="none"/>
<path d="M606.45 411.10L606.45 409.15M606.45 411.10L608.30 410.50M606.45 411.10L607.60 412.68M606.45 411.10L605.30 412.68M606.45 411.10L604.60 410.50" stroke="#2a2a2a" stroke-width="1.5" stroke-linecap="round" fill="none"/>
<path d="M612.95 411.10L612.95 409.15M612.95 411.10L614.80 410.50M612.95 411.10L614.10 412.68M612.95 411.10L611.80 412.68M612.95 411.10L611.10 410.50" stroke="#2a2a2a" stroke-width="1.5" stroke-linecap="round" fill="none"/>
<text transform="translate(612.45,468.50) rotate(-30)" font-size="12.6" text-anchor="end" fill="#000">RKO</text>
<rect x="623.30" y="422.60" width="18.70" height="32.20" fill="#808080" />
<line x1="632.65" y1="409.50" x2="632.65" y2="422.60" stroke="#000" stroke-width="2.0"/>
<line x1="627.95" y1="409.50" x2="637.35" y2="409.50" stroke="#000" stroke-width="1.8"/>
<line x1="632.65" y1="454.60" x2="632.65" y2="459.80" stroke="#000" stroke-width="1.6"/>
<path d="M626.25 404.60L626.25 402.65M626.25 404.60L628.10 404.00M626.25 404.60L627.40 406.18M626.25 404.60L625.10 406.18M626.25 404.60L624.40 404.00" stroke="#2a2a2a" stroke-width="1.5" stroke-linecap="round" fill="none"/>
<path d="M632.75 404.60L632.75 402.65M632.75 404.60L634.60 404.00M632.75 404.60L633.90 406.18M632.75 404.60L631.60 406.18M632.75 404.60L630.90 404.00" stroke="#2a2a2a" stroke-width="1.5" stroke-linecap="round" fill="none"/>
<path d="M639.25 404.60L639.25 402.65M639.25 404.60L641.10 404.00M639.25 404.60L640.40 406.18M639.25 404.60L638.10 406.18M639.25 404.60L637.40 404.00" stroke="#2a2a2a" stroke-width="1.5" stroke-linecap="round" fill="none"/>
<text transform="translate(637.25,468.50) rotate(-30)" font-size="12.6" text-anchor="end" fill="#000">HCT116</text>
<rect x="649.60" y="411.10" width="18.70" height="43.70" fill="#808080" />
<line x1="658.95" y1="387.40" x2="658.95" y2="411.10" stroke="#000" stroke-width="2.0"/>
<line x1="654.25" y1="387.40" x2="663.65" y2="387.40" stroke="#000" stroke-width="1.8"/>
<line x1="658.95" y1="454.60" x2="658.95" y2="459.80" stroke="#000" stroke-width="1.6"/>
<path d="M652.55 382.50L652.55 380.55M652.55 382.50L654.40 381.90M652.55 382.50L653.70 384.08M652.55 382.50L651.40 384.08M652.55 382.50L650.70 381.90" stroke="#2a2a2a" stroke-width="1.5" stroke-linecap="round" fill="none"/>
<path d="M659.05 382.50L659.05 380.55M659.05 382.50L660.90 381.90M659.05 382.50L660.20 384.08M659.05 382.50L657.90 384.08M659.05 382.50L657.20 381.90" stroke="#2a2a2a" stroke-width="1.5" stroke-linecap="round" fill="none"/>
<path d="M665.55 382.50L665.55 380.55M665.55 382.50L667.40 381.90M665.55 382.50L666.70 384.08M665.55 382.50L664.40 384.08M665.55 382.50L663.70 381.90" stroke="#2a2a2a" stroke-width="1.5" stroke-linecap="round" fill="none"/>
<text transform="translate(667.55,468.50) rotate(-30)" font-size="12.6" text-anchor="end" fill="#000">HT29</text>
<rect x="676.00" y="432.80" width="18.70" height="22.00" fill="#808080" />
<line x1="685.35" y1="412.10" x2="685.35" y2="432.80" stroke="#000" stroke-width="2.0"/>
<line x1="680.65" y1="412.10" x2="690.05" y2="412.10" stroke="#000" stroke-width="1.8"/>
<line x1="685.35" y1="454.60" x2="685.35" y2="459.80" stroke="#000" stroke-width="1.6"/>
<path d="M678.95 407.20L678.95 405.25M678.95 407.20L680.80 406.60M678.95 407.20L680.10 408.78M678.95 407.20L677.80 408.78M678.95 407.20L677.10 406.60" stroke="#2a2a2a" stroke-width="1.5" stroke-linecap="round" fill="none"/>
<path d="M685.45 407.20L685.45 405.25M685.45 407.20L687.30 406.60M685.45 407.20L686.60 408.78M685.45 407.20L684.30 408.78M685.45 407.20L683.60 406.60" stroke="#2a2a2a" stroke-width="1.5" stroke-linecap="round" fill="none"/>
<path d="M691.95 407.20L691.95 405.25M691.95 407.20L693.80 406.60M691.95 407.20L693.10 408.78M691.95 407.20L690.80 408.78M691.95 407.20L690.10 406.60" stroke="#2a2a2a" stroke-width="1.5" stroke-linecap="round" fill="none"/>
<text transform="translate(691.45,468.50) rotate(-30)" font-size="12.6" text-anchor="end" fill="#000">SW620</text>
<rect x="702.30" y="418.30" width="18.70" height="36.50" fill="#808080" />
<line x1="711.65" y1="400.60" x2="711.65" y2="418.30" stroke="#000" stroke-width="2.0"/>
<line x1="706.95" y1="400.60" x2="716.35" y2="400.60" stroke="#000" stroke-width="1.8"/>
<line x1="711.65" y1="454.60" x2="711.65" y2="459.80" stroke="#000" stroke-width="1.6"/>
<path d="M705.25 395.70L705.25 393.75M705.25 395.70L707.10 395.10M705.25 395.70L706.40 397.28M705.25 395.70L704.10 397.28M705.25 395.70L703.40 395.10" stroke="#2a2a2a" stroke-width="1.5" stroke-linecap="round" fill="none"/>
<path d="M711.75 395.70L711.75 393.75M711.75 395.70L713.60 395.10M711.75 395.70L712.90 397.28M711.75 395.70L710.60 397.28M711.75 395.70L709.90 395.10" stroke="#2a2a2a" stroke-width="1.5" stroke-linecap="round" fill="none"/>
<path d="M718.25 395.70L718.25 393.75M718.25 395.70L720.10 395.10M718.25 395.70L719.40 397.28M718.25 395.70L717.10 397.28M718.25 395.70L716.40 395.10" stroke="#2a2a2a" stroke-width="1.5" stroke-linecap="round" fill="none"/>
<text transform="translate(716.25,468.50) rotate(-30)" font-size="12.6" text-anchor="end" fill="#000">HCT8</text>
<text x="0.80" y="518.80" font-size="25.5" text-anchor="start" fill="#000" >F</text>
<line x1="72.40" y1="520.50" x2="72.40" y2="709.90" stroke="#303030" stroke-width="1.3"/>
<line x1="66.60" y1="709.90" x2="261.10" y2="709.90" stroke="#303030" stroke-width="1.3"/>
<line x1="66.60" y1="521.00" x2="72.40" y2="521.00" stroke="#303030" stroke-width="1.3"/>
<line x1="66.60" y1="568.00" x2="72.40" y2="568.00" stroke="#303030" stroke-width="1.3"/>
<line x1="66.60" y1="615.20" x2="72.40" y2="615.20" stroke="#303030" stroke-width="1.3"/>
<line x1="66.60" y1="662.50" x2="72.40" y2="662.50" stroke="#303030" stroke-width="1.3"/>
<text x="55.50" y="528.60" font-size="19" text-anchor="end" fill="#5a5a5a" >8</text>
<text x="55.50" y="575.50" font-size="19" text-anchor="end" fill="#5a5a5a" >6</text>
<text x="55.50" y="622.70" font-size="19" text-anchor="end" fill="#5a5a5a" >4</text>
<text x="55.50" y="669.90" font-size="19" text-anchor="end" fill="#5a5a5a" >2</text>
<text x="55.50" y="717.20" font-size="19" text-anchor="end" fill="#5a5a5a" >0</text>
<rect x="82.20" y="579.90" width="27.30" height="130.00" fill="#000" />
<line x1="95.85" y1="568.00" x2="95.85" y2="579.90" stroke="#3c3c3c" stroke-width="1.25"/>
<line x1="91.05" y1="568.00" x2="100.65" y2="568.00" stroke="#3c3c3c" stroke-width="1.3"/>
<g transform="translate(83.30,553.30)" fill="#000"><path d="M-0.35 0L-0.35 -1.0C-0.6 -1.93 -1.05 -2.80 -1.0 -3.50A1 1 0 0 1 1.0 -3.50C1.05 -2.80 0.6 -1.93 0.35 -1.0L0.35 0Z" transform="rotate(0)"/><path d="M-0.35 0L-0.35 -1.0C-0.6 -1.93 -1.05 -2.80 -1.0 -3.50A1 1 0 0 1 1.0 -3.50C1.05 -2.80 0.6 -1.93 0.35 -1.0L0.35 0Z" transform="rotate(60)"/><path d="M-0.35 0L-0.35 -1.0C-0.6 -1.93 -1.05 -2.80 -1.0 -3.50A1 1 0 0 1 1.0 -3.50C1.05 -2.80 0.6 -1.93 0.35 -1.0L0.35 0Z" transform="rotate(120)"/><path d="M-0.35 0L-0.35 -1.0C-0.6 -1.93 -1.05 -2.80 -1.0 -3.50A1 1 0 0 1 1.0 -3.50C1.05 -2.80 0.6 -1.93 0.35 -1.0L0.35 0Z" transform="rotate(180)"/><path d="M-0.35 0L-0.35 -1.0C-0.6 -1.93 -1.05 -2.80 -1.0 -3.50A1 1 0 0 1 1.0 -3.50C1.05 -2.80 0.6 -1.93 0.35 -1.0L0.35 0Z" transform="rotate(240)"/><path d="M-0.35 0L-0.35 -1.0C-0.6 -1.93 -1.05 -2.80 -1.0 -3.50A1 1 0 0 1 1.0 -3.50C1.05 -2.80 0.6 -1.93 0.35 -1.0L0.35 0Z" transform="rotate(300)"/></g>
<g transform="translate(94.50,553.30)" fill="#000"><path d="M-0.35 0L-0.35 -1.0C-0.6 -1.93 -1.05 -2.80 -1.0 -3.50A1 1 0 0 1 1.0 -3.50C1.05 -2.80 0.6 -1.93 0.35 -1.0L0.35 0Z" transform="rotate(0)"/><path d="M-0.35 0L-0.35 -1.0C-0.6 -1.93 -1.05 -2.80 -1.0 -3.50A1 1 0 0 1 1.0 -3.50C1.05 -2.80 0.6 -1.93 0.35 -1.0L0.35 0Z" transform="rotate(60)"/><path d="M-0.35 0L-0.35 -1.0C-0.6 -1.93 -1.05 -2.80 -1.0 -3.50A1 1 0 0 1 1.0 -3.50C1.05 -2.80 0.6 -1.93 0.35 -1.0L0.35 0Z" transform="rotate(120)"/><path d="M-0.35 0L-0.35 -1.0C-0.6 -1.93 -1.05 -2.80 -1.0 -3.50A1 1 0 0 1 1.0 -3.50C1.05 -2.80 0.6 -1.93 0.35 -1.0L0.35 0Z" transform="rotate(180)"/><path d="M-0.35 0L-0.35 -1.0C-0.6 -1.93 -1.05 -2.80 -1.0 -3.50A1 1 0 0 1 1.0 -3.50C1.05 -2.80 0.6 -1.93 0.35 -1.0L0.35 0Z" transform="rotate(240)"/><path d="M-0.35 0L-0.35 -1.0C-0.6 -1.93 -1.05 -2.80 -1.0 -3.50A1 1 0 0 1 1.0 -3.50C1.05 -2.80 0.6 -1.93 0.35 -1.0L0.35 0Z" transform="rotate(300)"/></g>
<g transform="translate(105.70,553.30)" fill="#000"><path d="M-0.35 0L-0.35 -1.0C-0.6 -1.93 -1.05 -2.80 -1.0 -3.50A1 1 0 0 1 1.0 -3.50C1.05 -2.80 0.6 -1.93 0.35 -1.0L0.35 0Z" transform="rotate(0)"/><path d="M-0.35 0L-0.35 -1.0C-0.6 -1.93 -1.05 -2.80 -1.0 -3.50A1 1 0 0 1 1.0 -3.50C1.05 -2.80 0.6 -1.93 0.35 -1.0L0.35 0Z" transform="rotate(60)"/><path d="M-0.35 0L-0.35 -1.0C-0.6 -1.93 -1.05 -2.80 -1.0 -3.50A1 1 0 0 1 1.0 -3.50C1.05 -2.80 0.6 -1.93 0.35 -1.0L0.35 0Z" transform="rotate(120)"/><path d="M-0.35 0L-0.35 -1.0C-0.6 -1.93 -1.05 -2.80 -1.0 -3.50A1 1 0 0 1 1.0 -3.50C1.05 -2.80 0.6 -1.93 0.35 -1.0L0.35 0Z" transform="rotate(180)"/><path d="M-0.35 0L-0.35 -1.0C-0.6 -1.93 -1.05 -2.80 -1.0 -3.50A1 1 0 0 1 1.0 -3.50C1.05 -2.80 0.6 -1.93 0.35 -1.0L0.35 0Z" transform="rotate(240)"/><path d="M-0.35 0L-0.35 -1.0C-0.6 -1.93 -1.05 -2.80 -1.0 -3.50A1 1 0 0 1 1.0 -3.50C1.05 -2.80 0.6 -1.93 0.35 -1.0L0.35 0Z" transform="rotate(300)"/></g>
<text x="95.85" y="740.00" font-size="19" text-anchor="middle" fill="#5a5a5a" >A</text>
<rect x="129.80" y="584.70" width="27.30" height="125.20" fill="#000" />
<line x1="143.45" y1="574.90" x2="143.45" y2="584.70" stroke="#3c3c3c" stroke-width="1.25"/>
<line x1="138.65" y1="574.90" x2="148.25" y2="574.90" stroke="#3c3c3c" stroke-width="1.3"/>
<g transform="translate(135.20,559.80)" fill="#000"><path d="M-0.35 0L-0.35 -1.0C-0.6 -1.93 -1.05 -2.80 -1.0 -3.50A1 1 0 0 1 1.0 -3.50C1.05 -2.80 0.6 -1.93 0.35 -1.0L0.35 0Z" transform="rotate(0)"/><path d="M-0.35 0L-0.35 -1.0C-0.6 -1.93 -1.05 -2.80 -1.0 -3.50A1 1 0 0 1 1.0 -3.50C1.05 -2.80 0.6 -1.93 0.35 -1.0L0.35 0Z" transform="rotate(60)"/><path d="M-0.35 0L-0.35 -1.0C-0.6 -1.93 -1.05 -2.80 -1.0 -3.50A1 1 0 0 1 1.0 -3.50C1.05 -2.80 0.6 -1.93 0.35 -1.0L0.35 0Z" transform="rotate(120)"/><path d="M-0.35 0L-0.35 -1.0C-0.6 -1.93 -1.05 -2.80 -1.0 -3.50A1 1 0 0 1 1.0 -3.50C1.05 -2.80 0.6 -1.93 0.35 -1.0L0.35 0Z" transform="rotate(180)"/><path d="M-0.35 0L-0.35 -1.0C-0.6 -1.93 -1.05 -2.80 -1.0 -3.50A1 1 0 0 1 1.0 -3.50C1.05 -2.80 0.6 -1.93 0.35 -1.0L0.35 0Z" transform="rotate(240)"/><path d="M-0.35 0L-0.35 -1.0C-0.6 -1.93 -1.05 -2.80 -1.0 -3.50A1 1 0 0 1 1.0 -3.50C1.05 -2.80 0.6 -1.93 0.35 -1.0L0.35 0Z" transform="rotate(300)"/></g>
<g transform="translate(146.40,559.80)" fill="#000"><path d="M-0.35 0L-0.35 -1.0C-0.6 -1.93 -1.05 -2.80 -1.0 -3.50A1 1 0 0 1 1.0 -3.50C1.05 -2.80 0.6 -1.93 0.35 -1.0L0.35 0Z" transform="rotate(0)"/><path d="M-0.35 0L-0.35 -1.0C-0.6 -1.93 -1.05 -2.80 -1.0 -3.50A1 1 0 0 1 1.0 -3.50C1.05 -2.80 0.6 -1.93 0.35 -1.0L0.35 0Z" transform="rotate(60)"/><path d="M-0.35 0L-0.35 -1.0C-0.6 -1.93 -1.05 -2.80 -1.0 -3.50A1 1 0 0 1 1.0 -3.50C1.05 -2.80 0.6 -1.93 0.35 -1.0L0.35 0Z" transform="rotate(120)"/><path d="M-0.35 0L-0.35 -1.0C-0.6 -1.93 -1.05 -2.80 -1.0 -3.50A1 1 0 0 1 1.0 -3.50C1.05 -2.80 0.6 -1.93 0.35 -1.0L0.35 0Z" transform="rotate(180)"/><path d="M-0.35 0L-0.35 -1.0C-0.6 -1.93 -1.05 -2.80 -1.0 -3.50A1 1 0 0 1 1.0 -3.50C1.05 -2.80 0.6 -1.93 0.35 -1.0L0.35 0Z" transform="rotate(240)"/><path d="M-0.35 0L-0.35 -1.0C-0.6 -1.93 -1.05 -2.80 -1.0 -3.50A1 1 0 0 1 1.0 -3.50C1.05 -2.80 0.6 -1.93 0.35 -1.0L0.35 0Z" transform="rotate(300)"/></g>
<g transform="translate(157.60,559.80)" fill="#000"><path d="M-0.35 0L-0.35 -1.0C-0.6 -1.93 -1.05 -2.80 -1.0 -3.50A1 1 0 0 1 1.0 -3.50C1.05 -2.80 0.6 -1.93 0.35 -1.0L0.35 0Z" transform="rotate(0)"/><path d="M-0.35 0L-0.35 -1.0C-0.6 -1.93 -1.05 -2.80 -1.0 -3.50A1 1 0 0 1 1.0 -3.50C1.05 -2.80 0.6 -1.93 0.35 -1.0L0.35 0Z" transform="rotate(60)"/><path d="M-0.35 0L-0.35 -1.0C-0.6 -1.93 -1.05 -2.80 -1.0 -3.50A1 1 0 0 1 1.0 -3.50C1.05 -2.80 0.6 -1.93 0.35 -1.0L0.35 0Z" transform="rotate(120)"/><path d="M-0.35 0L-0.35 -1.0C-0.6 -1.93 -1.05 -2.80 -1.0 -3.50A1 1 0 0 1 1.0 -3.50C1.05 -2.80 0.6 -1.93 0.35 -1.0L0.35 0Z" transform="rotate(180)"/><path d="M-0.35 0L-0.35 -1.0C-0.6 -1.93 -1.05 -2.80 -1.0 -3.50A1 1 0 0 1 1.0 -3.50C1.05 -2.80 0.6 -1.93 0.35 -1.0L0.35 0Z" transform="rotate(240)"/><path d="M-0.35 0L-0.35 -1.0C-0.6 -1.93 -1.05 -2.80 -1.0 -3.50A1 1 0 0 1 1.0 -3.50C1.05 -2.80 0.6 -1.93 0.35 -1.0L0.35 0Z" transform="rotate(300)"/></g>
<text x="143.45" y="740.00" font-size="19" text-anchor="middle" fill="#5a5a5a" >B</text>
<rect x="176.80" y="610.10" width="27.30" height="99.80" fill="#000" />
<line x1="190.45" y1="603.50" x2="190.45" y2="610.10" stroke="#3c3c3c" stroke-width="1.25"/>
<line x1="185.65" y1="603.50" x2="195.25" y2="603.50" stroke="#3c3c3c" stroke-width="1.3"/>
<g transform="translate(193.10,589.00)" fill="#000"><path d="M-0.35 0L-0.35 -1.0C-0.6 -1.93 -1.05 -2.80 -1.0 -3.50A1 1 0 0 1 1.0 -3.50C1.05 -2.80 0.6 -1.93 0.35 -1.0L0.35 0Z" transform="rotate(0)"/><path d="M-0.35 0L-0.35 -1.0C-0.6 -1.93 -1.05 -2.80 -1.0 -3.50A1 1 0 0 1 1.0 -3.50C1.05 -2.80 0.6 -1.93 0.35 -1.0L0.35 0Z" transform="rotate(60)"/><path d="M-0.35 0L-0.35 -1.0C-0.6 -1.93 -1.05 -2.80 -1.0 -3.50A1 1 0 0 1 1.0 -3.50C1.05 -2.80 0.6 -1.93 0.35 -1.0L0.35 0Z" transform="rotate(120)"/><path d="M-0.35 0L-0.35 -1.0C-0.6 -1.93 -1.05 -2.80 -1.0 -3.50A1 1 0 0 1 1.0 -3.50C1.05 -2.80 0.6 -1.93 0.35 -1.0L0.35 0Z" transform="rotate(180)"/><path d="M-0.35 0L-0.35 -1.0C-0.6 -1.93 -1.05 -2.80 -1.0 -3.50A1 1 0 0 1 1.0 -3.50C1.05 -2.80 0.6 -1.93 0.35 -1.0L0.35 0Z" transform="rotate(240)"/><path d="M-0.35 0L-0.35 -1.0C-0.6 -1.93 -1.05 -2.80 -1.0 -3.50A1 1 0 0 1 1.0 -3.50C1.05 -2.80 0.6 -1.93 0.35 -1.0L0.35 0Z" transform="rotate(300)"/></g>
<text x="190.45" y="740.00" font-size="19" text-anchor="middle" fill="#5a5a5a" >C</text>
<rect x="223.90" y="638.60" width="27.30" height="71.30" fill="#000" />
<line x1="237.55" y1="630.30" x2="237.55" y2="638.60" stroke="#3c3c3c" stroke-width="1.25"/>
<line x1="232.75" y1="630.30" x2="242.35" y2="630.30" stroke="#3c3c3c" stroke-width="1.3"/>
<text x="237.55" y="740.00" font-size="19" text-anchor="middle" fill="#5a5a5a" >D</text>
<text transform="translate(15.0,615.0) rotate(-90)" font-size="19" text-anchor="middle" fill="#5a5a5a">Relative miR-490-3p</text>
<text transform="translate(36.4,616.2) rotate(-90)" font-size="19" text-anchor="middle" fill="#5a5a5a">expression</text>
<text x="251.30" y="518.60" font-size="25.5" text-anchor="start" fill="#000" >G</text>
<line x1="343.90" y1="520.00" x2="343.90" y2="706.00" stroke="#303030" stroke-width="1.3"/>
<line x1="338.50" y1="706.00" x2="521.00" y2="706.00" stroke="#303030" stroke-width="1.3"/>
<line x1="338.50" y1="520.50" x2="343.90" y2="520.50" stroke="#303030" stroke-width="1.3"/>
<line x1="338.50" y1="567.10" x2="343.90" y2="567.10" stroke="#303030" stroke-width="1.3"/>
<line x1="338.50" y1="613.20" x2="343.90" y2="613.20" stroke="#303030" stroke-width="1.3"/>
<line x1="338.50" y1="659.40" x2="343.90" y2="659.40" stroke="#303030" stroke-width="1.3"/>
<text x="327.80" y="528.00" font-size="19" text-anchor="end" fill="#5a5a5a" >8</text>
<text x="327.80" y="574.20" font-size="19" text-anchor="end" fill="#5a5a5a" >6</text>
<text x="327.80" y="620.50" font-size="19" text-anchor="end" fill="#5a5a5a" >4</text>
<text x="327.80" y="666.70" font-size="19" text-anchor="end" fill="#5a5a5a" >2</text>
<text x="327.80" y="713.30" font-size="19" text-anchor="end" fill="#5a5a5a" >0</text>
<rect x="356.40" y="555.30" width="34.00" height="150.70" fill="#000" />
<line x1="373.40" y1="548.60" x2="373.40" y2="555.30" stroke="#3c3c3c" stroke-width="1.25"/>
<line x1="368.80" y1="548.60" x2="378.00" y2="548.60" stroke="#3c3c3c" stroke-width="1.3"/>
<g transform="translate(364.20,535.60)" fill="#000"><path d="M-0.35 0L-0.35 -1.0C-0.6 -1.93 -1.05 -2.80 -1.0 -3.50A1 1 0 0 1 1.0 -3.50C1.05 -2.80 0.6 -1.93 0.35 -1.0L0.35 0Z" transform="rotate(0)"/><path d="M-0.35 0L-0.35 -1.0C-0.6 -1.93 -1.05 -2.80 -1.0 -3.50A1 1 0 0 1 1.0 -3.50C1.05 -2.80 0.6 -1.93 0.35 -1.0L0.35 0Z" transform="rotate(60)"/><path d="M-0.35 0L-0.35 -1.0C-0.6 -1.93 -1.05 -2.80 -1.0 -3.50A1 1 0 0 1 1.0 -3.50C1.05 -2.80 0.6 -1.93 0.35 -1.0L0.35 0Z" transform="rotate(120)"/><path d="M-0.35 0L-0.35 -1.0C-0.6 -1.93 -1.05 -2.80 -1.0 -3.50A1 1 0 0 1 1.0 -3.50C1.05 -2.80 0.6 -1.93 0.35 -1.0L0.35 0Z" transform="rotate(180)"/><path d="M-0.35 0L-0.35 -1.0C-0.6 -1.93 -1.05 -2.80 -1.0 -3.50A1 1 0 0 1 1.0 -3.50C1.05 -2.80 0.6 -1.93 0.35 -1.0L0.35 0Z" transform="rotate(240)"/><path d="M-0.35 0L-0.35 -1.0C-0.6 -1.93 -1.05 -2.80 -1.0 -3.50A1 1 0 0 1 1.0 -3.50C1.05 -2.80 0.6 -1.93 0.35 -1.0L0.35 0Z" transform="rotate(300)"/></g>
<g transform="translate(375.40,535.60)" fill="#000"><path d="M-0.35 0L-0.35 -1.0C-0.6 -1.93 -1.05 -2.80 -1.0 -3.50A1 1 0 0 1 1.0 -3.50C1.05 -2.80 0.6 -1.93 0.35 -1.0L0.35 0Z" transform="rotate(0)"/><path d="M-0.35 0L-0.35 -1.0C-0.6 -1.93 -1.05 -2.80 -1.0 -3.50A1 1 0 0 1 1.0 -3.50C1.05 -2.80 0.6 -1.93 0.35 -1.0L0.35 0Z" transform="rotate(60)"/><path d="M-0.35 0L-0.35 -1.0C-0.6 -1.93 -1.05 -2.80 -1.0 -3.50A1 1 0 0 1 1.0 -3.50C1.05 -2.80 0.6 -1.93 0.35 -1.0L0.35 0Z" transform="rotate(120)"/><path d="M-0.35 0L-0.35 -1.0C-0.6 -1.93 -1.05 -2.80 -1.0 -3.50A1 1 0 0 1 1.0 -3.50C1.05 -2.80 0.6 -1.93 0.35 -1.0L0.35 0Z" transform="rotate(180)"/><path d="M-0.35 0L-0.35 -1.0C-0.6 -1.93 -1.05 -2.80 -1.0 -3.50A1 1 0 0 1 1.0 -3.50C1.05 -2.80 0.6 -1.93 0.35 -1.0L0.35 0Z" transform="rotate(240)"/><path d="M-0.35 0L-0.35 -1.0C-0.6 -1.93 -1.05 -2.80 -1.0 -3.50A1 1 0 0 1 1.0 -3.50C1.05 -2.80 0.6 -1.93 0.35 -1.0L0.35 0Z" transform="rotate(300)"/></g>
<g transform="translate(386.60,535.60)" fill="#000"><path d="M-0.35 0L-0.35 -1.0C-0.6 -1.93 -1.05 -2.80 -1.0 -3.50A1 1 0 0 1 1.0 -3.50C1.05 -2.80 0.6 -1.93 0.35 -1.0L0.35 0Z" transform="rotate(0)"/><path d="M-0.35 0L-0.35 -1.0C-0.6 -1.93 -1.05 -2.80 -1.0 -3.50A1 1 0 0 1 1.0 -3.50C1.05 -2.80 0.6 -1.93 0.35 -1.0L0.35 0Z" transform="rotate(60)"/><path d="M-0.35 0L-0.35 -1.0C-0.6 -1.93 -1.05 -2.80 -1.0 -3.50A1 1 0 0 1 1.0 -3.50C1.05 -2.80 0.6 -1.93 0.35 -1.0L0.35 0Z" transform="rotate(120)"/><path d="M-0.35 0L-0.35 -1.0C-0.6 -1.93 -1.05 -2.80 -1.0 -3.50A1 1 0 0 1 1.0 -3.50C1.05 -2.80 0.6 -1.93 0.35 -1.0L0.35 0Z" transform="rotate(180)"/><path d="M-0.35 0L-0.35 -1.0C-0.6 -1.93 -1.05 -2.80 -1.0 -3.50A1 1 0 0 1 1.0 -3.50C1.05 -2.80 0.6 -1.93 0.35 -1.0L0.35 0Z" transform="rotate(240)"/><path d="M-0.35 0L-0.35 -1.0C-0.6 -1.93 -1.05 -2.80 -1.0 -3.50A1 1 0 0 1 1.0 -3.50C1.05 -2.80 0.6 -1.93 0.35 -1.0L0.35 0Z" transform="rotate(300)"/></g>
<text transform="translate(377.90,729.80) rotate(-45)" font-size="19" text-anchor="end" fill="#5a5a5a">Well</text>
<rect x="415.10" y="603.50" width="34.00" height="102.50" fill="#000" />
<line x1="432.10" y1="594.70" x2="432.10" y2="603.50" stroke="#3c3c3c" stroke-width="1.25"/>
<line x1="427.50" y1="594.70" x2="436.70" y2="594.70" stroke="#3c3c3c" stroke-width="1.3"/>
<g transform="translate(423.40,582.70)" fill="#000"><path d="M-0.35 0L-0.35 -1.0C-0.6 -1.93 -1.05 -2.80 -1.0 -3.50A1 1 0 0 1 1.0 -3.50C1.05 -2.80 0.6 -1.93 0.35 -1.0L0.35 0Z" transform="rotate(0)"/><path d="M-0.35 0L-0.35 -1.0C-0.6 -1.93 -1.05 -2.80 -1.0 -3.50A1 1 0 0 1 1.0 -3.50C1.05 -2.80 0.6 -1.93 0.35 -1.0L0.35 0Z" transform="rotate(60)"/><path d="M-0.35 0L-0.35 -1.0C-0.6 -1.93 -1.05 -2.80 -1.0 -3.50A1 1 0 0 1 1.0 -3.50C1.05 -2.80 0.6 -1.93 0.35 -1.0L0.35 0Z" transform="rotate(120)"/><path d="M-0.35 0L-0.35 -1.0C-0.6 -1.93 -1.05 -2.80 -1.0 -3.50A1 1 0 0 1 1.0 -3.50C1.05 -2.80 0.6 -1.93 0.35 -1.0L0.35 0Z" transform="rotate(180)"/><path d="M-0.35 0L-0.35 -1.0C-0.6 -1.93 -1.05 -2.80 -1.0 -3.50A1 1 0 0 1 1.0 -3.50C1.05 -2.80 0.6 -1.93 0.35 -1.0L0.35 0Z" transform="rotate(240)"/><path d="M-0.35 0L-0.35 -1.0C-0.6 -1.93 -1.05 -2.80 -1.0 -3.50A1 1 0 0 1 1.0 -3.50C1.05 -2.80 0.6 -1.93 0.35 -1.0L0.35 0Z" transform="rotate(300)"/></g>
<g transform="translate(434.60,582.70)" fill="#000"><path d="M-0.35 0L-0.35 -1.0C-0.6 -1.93 -1.05 -2.80 -1.0 -3.50A1 1 0 0 1 1.0 -3.50C1.05 -2.80 0.6 -1.93 0.35 -1.0L0.35 0Z" transform="rotate(0)"/><path d="M-0.35 0L-0.35 -1.0C-0.6 -1.93 -1.05 -2.80 -1.0 -3.50A1 1 0 0 1 1.0 -3.50C1.05 -2.80 0.6 -1.93 0.35 -1.0L0.35 0Z" transform="rotate(60)"/><path d="M-0.35 0L-0.35 -1.0C-0.6 -1.93 -1.05 -2.80 -1.0 -3.50A1 1 0 0 1 1.0 -3.50C1.05 -2.80 0.6 -1.93 0.35 -1.0L0.35 0Z" transform="rotate(120)"/><path d="M-0.35 0L-0.35 -1.0C-0.6 -1.93 -1.05 -2.80 -1.0 -3.50A1 1 0 0 1 1.0 -3.50C1.05 -2.80 0.6 -1.93 0.35 -1.0L0.35 0Z" transform="rotate(180)"/><path d="M-0.35 0L-0.35 -1.0C-0.6 -1.93 -1.05 -2.80 -1.0 -3.50A1 1 0 0 1 1.0 -3.50C1.05 -2.80 0.6 -1.93 0.35 -1.0L0.35 0Z" transform="rotate(240)"/><path d="M-0.35 0L-0.35 -1.0C-0.6 -1.93 -1.05 -2.80 -1.0 -3.50A1 1 0 0 1 1.0 -3.50C1.05 -2.80 0.6 -1.93 0.35 -1.0L0.35 0Z" transform="rotate(300)"/></g>
<g transform="translate(445.80,582.70)" fill="#000"><path d="M-0.35 0L-0.35 -1.0C-0.6 -1.93 -1.05 -2.80 -1.0 -3.50A1 1 0 0 1 1.0 -3.50C1.05 -2.80 0.6 -1.93 0.35 -1.0L0.35 0Z" transform="rotate(0)"/><path d="M-0.35 0L-0.35 -1.0C-0.6 -1.93 -1.05 -2.80 -1.0 -3.50A1 1 0 0 1 1.0 -3.50C1.05 -2.80 0.6 -1.93 0.35 -1.0L0.35 0Z" transform="rotate(60)"/><path d="M-0.35 0L-0.35 -1.0C-0.6 -1.93 -1.05 -2.80 -1.0 -3.50A1 1 0 0 1 1.0 -3.50C1.05 -2.80 0.6 -1.93 0.35 -1.0L0.35 0Z" transform="rotate(120)"/><path d="M-0.35 0L-0.35 -1.0C-0.6 -1.93 -1.05 -2.80 -1.0 -3.50A1 1 0 0 1 1.0 -3.50C1.05 -2.80 0.6 -1.93 0.35 -1.0L0.35 0Z" transform="rotate(180)"/><path d="M-0.35 0L-0.35 -1.0C-0.6 -1.93 -1.05 -2.80 -1.0 -3.50A1 1 0 0 1 1.0 -3.50C1.05 -2.80 0.6 -1.93 0.35 -1.0L0.35 0Z" transform="rotate(240)"/><path d="M-0.35 0L-0.35 -1.0C-0.6 -1.93 -1.05 -2.80 -1.0 -3.50A1 1 0 0 1 1.0 -3.50C1.05 -2.80 0.6 -1.93 0.35 -1.0L0.35 0Z" transform="rotate(300)"/></g>
<text transform="translate(436.60,729.80) rotate(-45)" font-size="19" text-anchor="end" fill="#5a5a5a">Moderate</text>
<rect x="474.50" y="645.90" width="34.00" height="60.10" fill="#000" />
<line x1="491.50" y1="639.70" x2="491.50" y2="645.90" stroke="#3c3c3c" stroke-width="1.25"/>
<line x1="486.90" y1="639.70" x2="496.10" y2="639.70" stroke="#3c3c3c" stroke-width="1.3"/>
<text transform="translate(496.00,729.80) rotate(-45)" font-size="19" text-anchor="end" fill="#5a5a5a">Poor</text>
<text transform="translate(287.0,611.7) rotate(-90)" font-size="19" text-anchor="middle" fill="#5a5a5a">Relative miR-490-3p</text>
<text transform="translate(308.9,613.0) rotate(-90)" font-size="19" text-anchor="middle" fill="#5a5a5a">expression</text>
<text x="521.80" y="518.80" font-size="25.5" text-anchor="start" fill="#000" >H</text>
<line x1="608.70" y1="538.60" x2="608.70" y2="708.20" stroke="#303030" stroke-width="1.3"/>
<line x1="603.00" y1="708.20" x2="777.00" y2="708.20" stroke="#303030" stroke-width="1.3"/>
<line x1="603.00" y1="539.10" x2="608.70" y2="539.10" stroke="#303030" stroke-width="1.3"/>
<line x1="603.00" y1="595.80" x2="608.70" y2="595.80" stroke="#303030" stroke-width="1.3"/>
<line x1="603.00" y1="652.30" x2="608.70" y2="652.30" stroke="#303030" stroke-width="1.3"/>
<text x="593.00" y="546.60" font-size="19" text-anchor="end" fill="#5a5a5a" >6</text>
<text x="593.00" y="603.10" font-size="19" text-anchor="end" fill="#5a5a5a" >4</text>
<text x="593.00" y="659.60" font-size="19" text-anchor="end" fill="#5a5a5a" >2</text>
<text x="593.00" y="715.60" font-size="19" text-anchor="end" fill="#5a5a5a" >0</text>
<rect x="626.90" y="573.00" width="47.50" height="135.20" fill="#000" />
<line x1="650.80" y1="561.50" x2="650.80" y2="573.00" stroke="#3c3c3c" stroke-width="1.25"/>
<line x1="646.20" y1="561.50" x2="655.40" y2="561.50" stroke="#3c3c3c" stroke-width="1.3"/>
<g transform="translate(655.30,545.10)" fill="#000"><path d="M-0.35 0L-0.35 -1.0C-0.6 -1.93 -1.05 -2.80 -1.0 -3.50A1 1 0 0 1 1.0 -3.50C1.05 -2.80 0.6 -1.93 0.35 -1.0L0.35 0Z" transform="rotate(0)"/><path d="M-0.35 0L-0.35 -1.0C-0.6 -1.93 -1.05 -2.80 -1.0 -3.50A1 1 0 0 1 1.0 -3.50C1.05 -2.80 0.6 -1.93 0.35 -1.0L0.35 0Z" transform="rotate(60)"/><path d="M-0.35 0L-0.35 -1.0C-0.6 -1.93 -1.05 -2.80 -1.0 -3.50A1 1 0 0 1 1.0 -3.50C1.05 -2.80 0.6 -1.93 0.35 -1.0L0.35 0Z" transform="rotate(120)"/><path d="M-0.35 0L-0.35 -1.0C-0.6 -1.93 -1.05 -2.80 -1.0 -3.50A1 1 0 0 1 1.0 -3.50C1.05 -2.80 0.6 -1.93 0.35 -1.0L0.35 0Z" transform="rotate(180)"/><path d="M-0.35 0L-0.35 -1.0C-0.6 -1.93 -1.05 -2.80 -1.0 -3.50A1 1 0 0 1 1.0 -3.50C1.05 -2.80 0.6 -1.93 0.35 -1.0L0.35 0Z" transform="rotate(240)"/><path d="M-0.35 0L-0.35 -1.0C-0.6 -1.93 -1.05 -2.80 -1.0 -3.50A1 1 0 0 1 1.0 -3.50C1.05 -2.80 0.6 -1.93 0.35 -1.0L0.35 0Z" transform="rotate(300)"/></g>
<rect x="711.10" y="615.00" width="47.50" height="93.20" fill="#000" />
<line x1="735.00" y1="606.50" x2="735.00" y2="615.00" stroke="#3c3c3c" stroke-width="1.25"/>
<line x1="730.40" y1="606.50" x2="739.60" y2="606.50" stroke="#3c3c3c" stroke-width="1.3"/>
<text x="650.40" y="737.70" font-size="19" text-anchor="middle" fill="#5a5a5a" >Primary</text>
<text x="650.70" y="760.00" font-size="19" text-anchor="middle" fill="#5a5a5a" >tumors</text>
<text x="734.70" y="737.70" font-size="19" text-anchor="middle" fill="#5a5a5a" >Lymph</text>
<text x="738.60" y="760.00" font-size="19" text-anchor="middle" fill="#5a5a5a" word-spacing="4">nodes or</text>
<text x="735.00" y="781.90" font-size="19" text-anchor="middle" fill="#5a5a5a" >metastatic</text>
<text x="735.00" y="802.50" font-size="19" text-anchor="middle" fill="#5a5a5a" >lesions</text>
<text transform="translate(551.2,627.6) rotate(-90)" font-size="19" text-anchor="middle" fill="#5a5a5a">Relative miR-490-3p</text>
<text transform="translate(573.0,628.6) rotate(-90)" font-size="19" text-anchor="middle" fill="#5a5a5a">expression</text>
</svg>
</body></html>
